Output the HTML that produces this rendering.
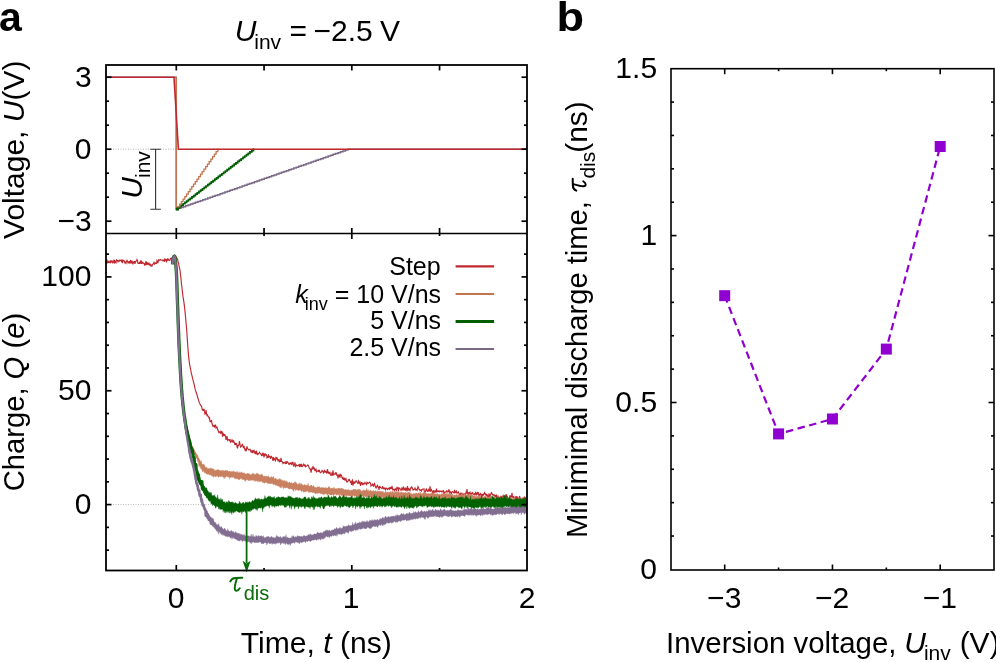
<!DOCTYPE html>
<html><head><meta charset="utf-8"><title>Figure</title>
<style>html,body{margin:0;padding:0;background:#fff;} svg{display:block;}svg{will-change:transform}</style>
</head><body>
<svg width="996" height="662" viewBox="0 0 996 662"><line x1="113" y1="149.20" x2="527.0" y2="149.20" stroke="#b4b4b4" stroke-width="1" stroke-dasharray="1 1.5"/>
<line x1="113" y1="504.60" x2="527.0" y2="504.60" stroke="#b4b4b4" stroke-width="1" stroke-dasharray="1 1.5"/>
<path d="M106,77.20 L176.3,77.20 L176.3,209.20 L177,209.20" fill="none" stroke="#7a6886" stroke-width="1.5"/>
<path d="M177.00,209.20 L178.23,209.20 L178.23,208.34 L180.69,208.34 L180.69,207.49 L183.15,207.49 L183.15,206.63 L185.60,206.63 L185.60,205.77 L188.06,205.77 L188.06,204.91 L190.52,204.91 L190.52,204.06 L192.98,204.06 L192.98,203.20 L195.44,203.20 L195.44,202.34 L197.90,202.34 L197.90,201.49 L200.36,201.49 L200.36,200.63 L202.81,200.63 L202.81,199.77 L205.27,199.77 L205.27,198.91 L207.73,198.91 L207.73,198.06 L210.19,198.06 L210.19,197.20 L212.65,197.20 L212.65,196.34 L215.11,196.34 L215.11,195.49 L217.57,195.49 L217.57,194.63 L220.02,194.63 L220.02,193.77 L222.48,193.77 L222.48,192.91 L224.94,192.91 L224.94,192.06 L227.40,192.06 L227.40,191.20 L229.86,191.20 L229.86,190.34 L232.32,190.34 L232.32,189.49 L234.78,189.49 L234.78,188.63 L237.23,188.63 L237.23,187.77 L239.69,187.77 L239.69,186.91 L242.15,186.91 L242.15,186.06 L244.61,186.06 L244.61,185.20 L247.07,185.20 L247.07,184.34 L249.53,184.34 L249.53,183.49 L251.99,183.49 L251.99,182.63 L254.44,182.63 L254.44,181.77 L256.90,181.77 L256.90,180.91 L259.36,180.91 L259.36,180.06 L261.82,180.06 L261.82,179.20 L264.28,179.20 L264.28,178.34 L266.74,178.34 L266.74,177.49 L269.20,177.49 L269.20,176.63 L271.65,176.63 L271.65,175.77 L274.11,175.77 L274.11,174.91 L276.57,174.91 L276.57,174.06 L279.03,174.06 L279.03,173.20 L281.49,173.20 L281.49,172.34 L283.95,172.34 L283.95,171.49 L286.41,171.49 L286.41,170.63 L288.86,170.63 L288.86,169.77 L291.32,169.77 L291.32,168.91 L293.78,168.91 L293.78,168.06 L296.24,168.06 L296.24,167.20 L298.70,167.20 L298.70,166.34 L301.16,166.34 L301.16,165.49 L303.62,165.49 L303.62,164.63 L306.07,164.63 L306.07,163.77 L308.53,163.77 L308.53,162.91 L310.99,162.91 L310.99,162.06 L313.45,162.06 L313.45,161.20 L315.91,161.20 L315.91,160.34 L318.37,160.34 L318.37,159.49 L320.83,159.49 L320.83,158.63 L323.28,158.63 L323.28,157.77 L325.74,157.77 L325.74,156.91 L328.20,156.91 L328.20,156.06 L330.66,156.06 L330.66,155.20 L333.12,155.20 L333.12,154.34 L335.58,154.34 L335.58,153.49 L338.04,153.49 L338.04,152.63 L340.49,152.63 L340.49,151.77 L342.95,151.77 L342.95,150.91 L345.41,150.91 L345.41,150.06 L347.87,150.06 L347.87,149.20 L349.10,149.20 L527,149.20" fill="none" stroke="#7a6886" stroke-width="1.5"/>
<path d="M177.00,209.20 L177.88,209.20 L177.88,207.84 L179.64,207.84 L179.64,206.47 L181.40,206.47 L181.40,205.11 L183.16,205.11 L183.16,203.75 L184.92,203.75 L184.92,202.38 L186.67,202.38 L186.67,201.02 L188.43,201.02 L188.43,199.65 L190.19,199.65 L190.19,198.29 L191.95,198.29 L191.95,196.93 L193.71,196.93 L193.71,195.56 L195.47,195.56 L195.47,194.20 L197.23,194.20 L197.23,192.84 L198.99,192.84 L198.99,191.47 L200.75,191.47 L200.75,190.11 L202.51,190.11 L202.51,188.75 L204.27,188.75 L204.27,187.38 L206.02,187.38 L206.02,186.02 L207.78,186.02 L207.78,184.65 L209.54,184.65 L209.54,183.29 L211.30,183.29 L211.30,181.93 L213.06,181.93 L213.06,180.56 L214.82,180.56 L214.82,179.20 L216.58,179.20 L216.58,177.84 L218.34,177.84 L218.34,176.47 L220.10,176.47 L220.10,175.11 L221.86,175.11 L221.86,173.75 L223.62,173.75 L223.62,172.38 L225.37,172.38 L225.37,171.02 L227.13,171.02 L227.13,169.65 L228.89,169.65 L228.89,168.29 L230.65,168.29 L230.65,166.93 L232.41,166.93 L232.41,165.56 L234.17,165.56 L234.17,164.20 L235.93,164.20 L235.93,162.84 L237.69,162.84 L237.69,161.47 L239.45,161.47 L239.45,160.11 L241.21,160.11 L241.21,158.75 L242.97,158.75 L242.97,157.38 L244.72,157.38 L244.72,156.02 L246.48,156.02 L246.48,154.65 L248.24,154.65 L248.24,153.29 L250.00,153.29 L250.00,151.93 L251.76,151.93 L251.76,150.56 L253.52,150.56 L253.52,149.20 L254.40,149.20" fill="none" stroke="#005e00" stroke-width="1.7"/>
<path d="M176.3,77.20 L176.3,209.20 L177,209.20" fill="none" stroke="#c27650" stroke-width="1.3"/>
<path d="M177.00,209.20 L177.87,209.20 L177.87,206.70 L179.61,206.70 L179.61,204.20 L181.34,204.20 L181.34,201.70 L183.08,201.70 L183.08,199.20 L184.82,199.20 L184.82,196.70 L186.56,196.70 L186.56,194.20 L188.29,194.20 L188.29,191.70 L190.03,191.70 L190.03,189.20 L191.77,189.20 L191.77,186.70 L193.51,186.70 L193.51,184.20 L195.24,184.20 L195.24,181.70 L196.98,181.70 L196.98,179.20 L198.72,179.20 L198.72,176.70 L200.46,176.70 L200.46,174.20 L202.19,174.20 L202.19,171.70 L203.93,171.70 L203.93,169.20 L205.67,169.20 L205.67,166.70 L207.41,166.70 L207.41,164.20 L209.14,164.20 L209.14,161.70 L210.88,161.70 L210.88,159.20 L212.62,159.20 L212.62,156.70 L214.36,156.70 L214.36,154.20 L216.09,154.20 L216.09,151.70 L217.83,151.70 L217.83,149.20 L218.70,149.20" fill="none" stroke="#c27650" stroke-width="1.3"/>
<path d="M106,77.20 L174,77.20 L178.4,149.20 L527,149.20" fill="none" stroke="#c02830" stroke-width="1.6"/>
<rect x="175.8" y="207.60" width="3" height="3" fill="#005e00"/>
<path d="M155.6,149.20 L155.6,209.20 M150.3,149.20 L160.9,149.20 M150.3,209.20 L160.9,209.20" stroke="#333" stroke-width="1.1" fill="none"/>
<path d="M106.00,263.93 L106.50,261.26 L107.00,260.47 L107.50,262.53 L108.00,261.63 L108.50,262.39 L109.00,261.49 L109.50,262.60 L110.00,262.81 L110.50,260.33 L111.00,262.14 L111.50,261.54 L112.00,260.46 L112.50,263.25 L113.00,262.09 L113.50,262.06 L114.00,259.74 L114.50,263.52 L115.00,260.99 L115.50,261.49 L116.00,262.44 L116.50,259.97 L117.00,260.46 L117.50,260.46 L118.00,261.78 L118.50,260.69 L119.00,260.60 L119.50,261.07 L120.00,259.91 L120.50,260.13 L121.00,260.60 L121.50,262.15 L122.00,259.30 L122.50,263.20 L123.00,260.57 L123.50,260.45 L124.00,260.57 L124.50,261.67 L125.00,262.96 L125.50,261.98 L126.00,263.07 L126.50,261.37 L127.00,260.27 L127.50,261.36 L128.00,262.85 L128.50,261.53 L129.00,263.10 L129.50,261.17 L130.00,263.72 L130.50,259.96 L131.00,261.99 L131.50,263.40 L132.00,260.67 L132.50,262.96 L133.00,264.28 L133.50,261.50 L134.00,262.97 L134.50,261.00 L135.00,263.88 L135.50,261.60 L136.00,261.39 L136.50,260.60 L137.00,259.60 L137.50,260.70 L138.00,263.35 L138.50,263.36 L139.00,263.34 L139.50,262.53 L140.00,263.92 L140.50,262.11 L141.00,260.26 L141.50,263.96 L142.00,262.18 L142.50,263.03 L143.00,262.43 L143.50,263.23 L144.00,263.55 L144.50,264.89 L145.00,263.87 L145.50,265.41 L146.00,261.05 L146.50,263.87 L147.00,263.12 L147.50,264.85 L148.00,263.29 L148.50,264.21 L149.00,263.37 L149.50,264.88 L150.00,264.17 L150.50,264.30 L151.00,266.67 L151.50,265.30 L152.00,265.86 L152.50,264.30 L153.00,263.97 L153.50,263.53 L154.00,262.44 L154.50,264.09 L155.00,263.48 L155.50,262.93 L156.00,263.53 L156.50,263.49 L157.00,260.42 L157.50,261.17 L158.00,263.22 L158.50,259.90 L159.00,259.75 L159.50,260.30 L160.00,259.98 L160.50,259.57 L161.00,259.95 L161.50,260.24 L162.00,260.05 L162.50,260.09 L163.00,260.83 L163.50,260.32 L164.00,259.80 L164.50,261.76 L165.00,259.22 L165.50,259.88 L166.00,259.01 L166.50,262.27 L167.00,259.61 L167.50,259.04 L168.00,260.14 L168.50,259.40 L169.00,260.15 L169.50,260.42 L170.00,260.26 L170.50,258.35 L171.00,258.13 L171.50,258.63 L172.00,258.18 L172.50,260.58 L173.00,259.02 L173.50,255.20 L174.00,258.60 L174.50,255.22 L175.00,257.13 L175.50,258.19 L176.00,256.51 L176.50,257.76 L177.00,258.34 L177.50,258.79 L178.00,261.46 L178.50,263.01 L179.00,265.72 L179.50,268.02 L180.00,270.24 L180.50,274.80 L181.00,278.62 L181.50,284.22 L182.00,288.27 L182.50,292.59 L183.00,296.68 L183.50,299.70 L184.00,302.82 L184.50,306.67 L185.00,311.34 L185.50,316.58 L186.00,322.05 L186.50,328.01 L187.00,334.30 L187.50,342.24 L188.00,348.75 L188.50,355.40 L189.00,359.82 L189.50,363.49 L190.00,366.30 L190.50,369.16 L191.00,371.26 L191.50,374.07 L192.00,375.54 L192.50,378.19 L193.00,380.11 L193.50,381.79 L194.00,383.74 L194.50,385.97 L195.00,388.42 L195.50,390.40 L196.00,391.70 L196.50,393.22 L197.00,394.70 L197.50,397.11 L198.00,398.30 L198.50,400.20 L199.00,401.79 L199.50,402.98 L200.00,403.88 L200.50,405.25 L201.00,405.76 L201.50,405.96 L202.00,408.47 L202.50,410.61 L203.00,408.85 L203.50,410.89 L204.00,408.78 L204.50,411.77 L205.00,414.23 L205.50,413.82 L206.00,410.10 L206.50,413.60 L207.00,415.42 L207.50,415.00 L208.00,416.31 L208.50,416.59 L209.00,417.92 L209.50,417.66 L210.00,421.65 L210.50,421.69 L211.00,421.54 L211.50,419.97 L212.00,423.51 L212.50,424.94 L213.00,426.30 L213.50,426.00 L214.00,425.54 L214.50,426.98 L215.00,426.52 L215.50,424.67 L216.00,428.00 L216.50,427.66 L217.00,426.64 L217.50,429.41 L218.00,429.91 L218.50,431.83 L219.00,432.71 L219.50,431.95 L220.00,431.97 L220.50,433.02 L221.00,431.53 L221.50,432.53 L222.00,431.20 L222.50,436.59 L223.00,433.55 L223.50,434.31 L224.00,436.05 L224.50,434.53 L225.00,434.83 L225.50,436.53 L226.00,439.98 L226.50,437.87 L227.00,436.19 L227.50,440.17 L228.00,439.43 L228.50,439.89 L229.00,439.87 L229.50,441.09 L230.00,439.19 L230.50,442.20 L231.00,442.08 L231.50,441.17 L232.00,439.41 L232.50,441.36 L233.00,442.58 L233.50,440.28 L234.00,442.04 L234.50,442.81 L235.00,445.04 L235.50,442.91 L236.00,444.73 L236.50,443.07 L237.00,446.52 L237.50,448.47 L238.00,445.04 L238.50,446.09 L239.00,443.95 L239.50,441.13 L240.00,444.25 L240.50,447.07 L241.00,446.49 L241.50,446.08 L242.00,444.57 L242.50,444.36 L243.00,446.66 L243.50,447.38 L244.00,445.85 L244.50,448.34 L245.00,449.97 L245.50,449.27 L246.00,451.44 L246.50,449.09 L247.00,446.46 L247.50,448.01 L248.00,448.98 L248.50,449.87 L249.00,449.78 L249.50,449.42 L250.00,449.19 L250.50,450.53 L251.00,451.79 L251.50,452.14 L252.00,450.11 L252.50,453.10 L253.00,451.93 L253.50,450.40 L254.00,450.25 L254.50,453.38 L255.00,451.28 L255.50,454.08 L256.00,451.64 L256.50,451.30 L257.00,454.63 L257.50,452.88 L258.00,454.36 L258.50,453.43 L259.00,453.17 L259.50,452.38 L260.00,453.10 L260.50,453.70 L261.00,454.34 L261.50,455.58 L262.00,455.49 L262.50,453.75 L263.00,454.87 L263.50,454.02 L264.00,457.33 L264.50,454.34 L265.00,455.12 L265.50,454.18 L266.00,455.00 L266.50,454.87 L267.00,457.66 L267.50,456.81 L268.00,457.77 L268.50,454.26 L269.00,456.96 L269.50,456.51 L270.00,456.42 L270.50,458.75 L271.00,456.88 L271.50,456.47 L272.00,457.78 L272.50,458.28 L273.00,460.99 L273.50,457.07 L274.00,459.48 L274.50,458.92 L275.00,459.86 L275.50,460.65 L276.00,457.64 L276.50,458.46 L277.00,457.35 L277.50,459.53 L278.00,460.79 L278.50,459.67 L279.00,459.52 L279.50,461.57 L280.00,460.79 L280.50,461.84 L281.00,457.81 L281.50,461.24 L282.00,461.93 L282.50,461.92 L283.00,463.36 L283.50,462.59 L284.00,462.99 L284.50,462.60 L285.00,462.15 L285.50,463.99 L286.00,461.58 L286.50,463.89 L287.00,461.16 L287.50,462.11 L288.00,462.59 L288.50,462.98 L289.00,464.97 L289.50,463.51 L290.00,463.84 L290.50,462.94 L291.00,463.05 L291.50,464.24 L292.00,462.99 L292.50,464.26 L293.00,461.89 L293.50,466.35 L294.00,465.49 L294.50,464.51 L295.00,462.34 L295.50,466.47 L296.00,465.87 L296.50,465.00 L297.00,465.77 L297.50,465.65 L298.00,465.32 L298.50,465.42 L299.00,464.74 L299.50,467.01 L300.00,463.97 L300.50,466.05 L301.00,466.24 L301.50,463.80 L302.00,467.04 L302.50,466.16 L303.00,465.67 L303.50,464.24 L304.00,464.91 L304.50,465.69 L305.00,464.85 L305.50,466.65 L306.00,466.14 L306.50,466.21 L307.00,465.85 L307.50,465.11 L308.00,465.03 L308.50,466.02 L309.00,467.10 L309.50,468.72 L310.00,469.22 L310.50,469.16 L311.00,472.57 L311.50,470.16 L312.00,467.59 L312.50,469.31 L313.00,465.99 L313.50,469.36 L314.00,467.39 L314.50,468.96 L315.00,471.15 L315.50,469.23 L316.00,469.04 L316.50,471.92 L317.00,471.41 L317.50,471.01 L318.00,471.21 L318.50,469.83 L319.00,471.43 L319.50,470.62 L320.00,472.00 L320.50,472.68 L321.00,472.37 L321.50,471.84 L322.00,470.46 L322.50,471.07 L323.00,471.66 L323.50,472.69 L324.00,471.34 L324.50,470.58 L325.00,472.24 L325.50,471.90 L326.00,470.79 L326.50,472.83 L327.00,472.40 L327.50,469.13 L328.00,473.56 L328.50,471.59 L329.00,473.99 L329.50,472.49 L330.00,472.32 L330.50,474.99 L331.00,475.34 L331.50,475.10 L332.00,472.33 L332.50,475.78 L333.00,470.38 L333.50,475.30 L334.00,473.97 L334.50,474.18 L335.00,473.99 L335.50,472.40 L336.00,473.89 L336.50,473.30 L337.00,475.97 L337.50,474.64 L338.00,478.52 L338.50,475.48 L339.00,474.87 L339.50,476.86 L340.00,477.07 L340.50,473.80 L341.00,476.11 L341.50,474.82 L342.00,477.74 L342.50,478.47 L343.00,477.83 L343.50,479.73 L344.00,477.85 L344.50,480.36 L345.00,478.75 L345.50,479.80 L346.00,478.88 L346.50,481.38 L347.00,482.17 L347.50,481.49 L348.00,481.20 L348.50,479.81 L349.00,480.28 L349.50,479.69 L350.00,480.92 L350.50,482.15 L351.00,481.85 L351.50,484.90 L352.00,480.76 L352.50,480.03 L353.00,485.66 L353.50,481.48 L354.00,483.93 L354.50,481.61 L355.00,482.78 L355.50,482.27 L356.00,480.86 L356.50,480.92 L357.00,482.09 L357.50,482.66 L358.00,483.99 L358.50,480.89 L359.00,481.75 L359.50,483.04 L360.00,482.31 L360.50,485.84 L361.00,484.59 L361.50,482.53 L362.00,482.55 L362.50,484.55 L363.00,484.71 L363.50,483.70 L364.00,483.31 L364.50,483.74 L365.00,482.44 L365.50,483.22 L366.00,483.68 L366.50,484.48 L367.00,482.33 L367.50,482.82 L368.00,483.44 L368.50,483.16 L369.00,482.73 L369.50,482.15 L370.00,482.35 L370.50,483.49 L371.00,485.99 L371.50,485.17 L372.00,485.22 L372.50,483.67 L373.00,485.22 L373.50,486.60 L374.00,484.14 L374.50,483.51 L375.00,485.20 L375.50,487.29 L376.00,487.95 L376.50,486.89 L377.00,485.80 L377.50,485.30 L378.00,487.69 L378.50,486.68 L379.00,489.80 L379.50,486.06 L380.00,487.37 L380.50,487.22 L381.00,487.79 L381.50,487.91 L382.00,488.97 L382.50,486.82 L383.00,487.01 L383.50,488.34 L384.00,488.94 L384.50,487.88 L385.00,488.10 L385.50,489.49 L386.00,488.15 L386.50,488.05 L387.00,489.03 L387.50,489.54 L388.00,488.62 L388.50,488.79 L389.00,488.12 L389.50,489.16 L390.00,487.90 L390.50,489.14 L391.00,487.07 L391.50,488.85 L392.00,485.84 L392.50,489.10 L393.00,489.98 L393.50,489.25 L394.00,489.14 L394.50,490.56 L395.00,489.33 L395.50,488.83 L396.00,489.55 L396.50,490.34 L397.00,486.88 L397.50,488.80 L398.00,487.38 L398.50,490.86 L399.00,487.56 L399.50,488.73 L400.00,488.79 L400.50,489.10 L401.00,490.30 L401.50,489.30 L402.00,487.82 L402.50,488.75 L403.00,490.60 L403.50,486.59 L404.00,488.31 L404.50,489.72 L405.00,489.17 L405.50,490.58 L406.00,488.11 L406.50,488.53 L407.00,491.48 L407.50,486.08 L408.00,490.05 L408.50,488.08 L409.00,490.06 L409.50,489.70 L410.00,490.50 L410.50,488.26 L411.00,488.08 L411.50,486.48 L412.00,487.82 L412.50,488.20 L413.00,490.47 L413.50,489.44 L414.00,489.46 L414.50,489.14 L415.00,488.19 L415.50,490.29 L416.00,489.23 L416.50,489.84 L417.00,490.34 L417.50,488.45 L418.00,486.63 L418.50,487.63 L419.00,489.21 L419.50,489.36 L420.00,490.47 L420.50,490.00 L421.00,489.72 L421.50,491.00 L422.00,489.76 L422.50,489.10 L423.00,489.16 L423.50,489.21 L424.00,488.92 L424.50,492.74 L425.00,491.71 L425.50,491.83 L426.00,489.27 L426.50,488.96 L427.00,490.65 L427.50,491.30 L428.00,491.29 L428.50,489.64 L429.00,490.85 L429.50,491.03 L430.00,486.38 L430.50,491.12 L431.00,490.64 L431.50,489.68 L432.00,491.04 L432.50,492.19 L433.00,493.86 L433.50,490.26 L434.00,491.37 L434.50,492.62 L435.00,490.55 L435.50,491.74 L436.00,491.98 L436.50,488.70 L437.00,491.48 L437.50,491.61 L438.00,491.04 L438.50,491.53 L439.00,490.97 L439.50,491.73 L440.00,491.14 L440.50,491.35 L441.00,491.09 L441.50,491.68 L442.00,492.13 L442.50,491.03 L443.00,491.01 L443.50,490.73 L444.00,494.16 L444.50,492.03 L445.00,491.99 L445.50,492.13 L446.00,492.17 L446.50,490.79 L447.00,490.88 L447.50,491.98 L448.00,491.98 L448.50,491.29 L449.00,489.26 L449.50,492.32 L450.00,491.59 L450.50,491.91 L451.00,493.48 L451.50,493.49 L452.00,491.71 L452.50,491.70 L453.00,491.90 L453.50,492.32 L454.00,493.35 L454.50,489.95 L455.00,492.55 L455.50,492.65 L456.00,491.94 L456.50,490.51 L457.00,493.58 L457.50,492.53 L458.00,492.52 L458.50,492.04 L459.00,493.65 L459.50,494.66 L460.00,494.06 L460.50,494.76 L461.00,492.61 L461.50,493.73 L462.00,496.35 L462.50,495.36 L463.00,493.74 L463.50,494.88 L464.00,495.07 L464.50,493.96 L465.00,494.06 L465.50,494.34 L466.00,492.52 L466.50,493.62 L467.00,489.05 L467.50,493.54 L468.00,494.33 L468.50,492.43 L469.00,493.97 L469.50,493.06 L470.00,492.16 L470.50,493.87 L471.00,494.74 L471.50,493.09 L472.00,493.23 L472.50,492.58 L473.00,493.62 L473.50,494.35 L474.00,494.42 L474.50,493.83 L475.00,494.38 L475.50,492.57 L476.00,493.30 L476.50,495.24 L477.00,493.23 L477.50,491.99 L478.00,493.88 L478.50,493.21 L479.00,495.93 L479.50,495.55 L480.00,494.09 L480.50,493.51 L481.00,494.96 L481.50,493.68 L482.00,499.19 L482.50,493.94 L483.00,495.69 L483.50,494.22 L484.00,494.38 L484.50,492.58 L485.00,493.35 L485.50,494.60 L486.00,494.31 L486.50,496.05 L487.00,494.02 L487.50,496.82 L488.00,495.48 L488.50,498.05 L489.00,493.96 L489.50,494.31 L490.00,497.32 L490.50,495.93 L491.00,493.16 L491.50,492.56 L492.00,493.67 L492.50,494.48 L493.00,494.93 L493.50,495.41 L494.00,494.81 L494.50,494.84 L495.00,496.70 L495.50,495.84 L496.00,496.69 L496.50,494.64 L497.00,499.10 L497.50,497.31 L498.00,495.58 L498.50,498.68 L499.00,500.49 L499.50,496.83 L500.00,499.23 L500.50,498.46 L501.00,495.81 L501.50,497.44 L502.00,497.38 L502.50,496.79 L503.00,495.80 L503.50,498.07 L504.00,495.65 L504.50,497.79 L505.00,496.59 L505.50,494.70 L506.00,497.70 L506.50,494.28 L507.00,497.59 L507.50,496.97 L508.00,498.67 L508.50,499.67 L509.00,499.36 L509.50,497.49 L510.00,495.30 L510.50,496.90 L511.00,496.12 L511.50,496.70 L512.00,492.70 L512.50,497.44 L513.00,496.14 L513.50,498.14 L514.00,497.05 L514.50,498.59 L515.00,499.51 L515.50,497.94 L516.00,496.02 L516.50,499.14 L517.00,496.43 L517.50,497.50 L518.00,498.38 L518.50,498.63 L519.00,498.96 L519.50,496.00 L520.00,497.40 L520.50,499.38 L521.00,501.13 L521.50,499.60 L522.00,498.69 L522.50,499.63 L523.00,498.47 L523.50,499.93 L524.00,498.68 L524.50,496.57 L525.00,500.09 L525.50,501.05 L526.00,499.53 L526.50,499.49 L527.00,499.39" fill="none" stroke="#c02830" stroke-width="1.15" stroke-linejoin="miter" stroke-miterlimit="3"/>
<path d="M172.50,264.05 L172.80,261.26 L173.10,259.41 L173.40,258.37 L173.70,256.86 L174.00,256.49 L174.30,256.53 L174.60,256.67 L174.90,257.13 L175.20,258.93 L175.50,261.47 L175.80,264.05 L176.10,267.16 L176.40,270.79 L176.70,275.97 L177.00,284.47 L177.30,294.18 L177.60,302.63 L177.90,310.77 L178.20,319.19 L178.50,326.83 L178.80,334.12 L179.10,341.39 L179.40,347.43 L179.70,353.96 L180.00,360.03 L180.30,365.29 L180.60,371.13 L180.90,376.42 L181.20,380.93 L181.50,385.80 L181.80,390.07 L182.10,394.02 L182.40,397.52 L182.70,400.79 L183.00,404.10 L183.30,406.88 L183.60,409.91 L183.90,412.38 L184.20,414.88 L184.50,416.99 L184.80,418.91 L185.10,420.93 L185.40,422.12 L185.70,422.91 L186.00,424.57 L186.30,425.50 L186.60,426.75 L186.90,427.81 L187.20,428.67 L187.50,429.77 L187.80,431.16 L188.10,431.75 L188.40,433.48 L188.70,434.58 L189.00,436.36 L189.30,437.15 L189.60,438.95 L189.90,440.34 L190.20,441.03 L190.50,441.89 L190.80,443.81 L191.10,443.46 L191.40,446.09 L191.70,446.20 L192.00,447.42 L192.30,447.18 L192.60,447.45 L192.90,448.24 L193.20,448.85 L193.50,449.42 L193.80,451.31 L194.10,450.73 L194.40,452.27 L194.70,452.21 L195.00,452.67 L195.30,453.87 L195.60,454.91 L195.90,455.75 L196.20,455.57 L196.50,456.32 L196.80,457.64" fill="none" stroke="#c98060" stroke-width="1.6" stroke-linejoin="round"/>
<path d="M193.00,448.60 L193.60,449.64 L194.20,450.59 L194.80,451.53 L195.40,452.46 L196.00,452.66 L196.60,454.11 L197.20,454.80 L197.80,455.14 L198.40,457.42 L199.00,458.20 L199.60,459.69 L200.20,460.31 L200.80,462.08 L201.40,460.75 L202.00,463.90 L202.60,464.41 L203.20,463.71 L203.80,464.56 L204.40,464.73 L205.00,466.13 L205.60,467.60 L206.20,467.79 L206.80,466.94 L207.40,468.52 L208.00,468.41 L208.60,468.44 L209.20,468.16 L209.80,468.80 L210.40,468.86 L211.00,467.53 L211.60,469.36 L212.20,468.02 L212.80,469.31 L213.40,469.11 L214.00,469.08 L214.60,470.72 L215.20,470.17 L215.80,470.61 L216.40,469.96 L217.00,469.66 L217.60,469.84 L218.20,469.36 L218.80,469.91 L219.40,470.78 L220.00,470.01 L220.60,470.66 L221.20,470.49 L221.80,471.04 L222.40,469.94 L223.00,471.05 L223.60,470.22 L224.20,470.91 L224.80,470.88 L225.40,469.78 L226.00,470.86 L226.60,470.46 L227.20,470.75 L227.80,470.53 L228.40,471.33 L229.00,471.20 L229.60,471.12 L230.20,471.53 L230.80,471.71 L231.40,471.27 L232.00,471.66 L232.60,471.43 L233.20,470.75 L233.80,471.83 L234.40,471.32 L235.00,472.21 L235.60,472.08 L236.20,472.18 L236.80,471.30 L237.40,471.62 L238.00,472.90 L238.60,472.63 L239.20,471.52 L239.80,472.92 L240.40,472.77 L241.00,472.09 L241.60,471.83 L242.20,472.81 L242.80,473.10 L243.40,473.27 L244.00,472.39 L244.60,473.29 L245.20,473.57 L245.80,474.14 L246.40,473.83 L247.00,473.53 L247.60,473.03 L248.20,473.63 L248.80,473.49 L249.40,473.82 L250.00,474.30 L250.60,474.90 L251.20,474.77 L251.80,473.69 L252.40,474.10 L253.00,472.85 L253.60,474.20 L254.20,473.72 L254.80,474.81 L255.40,474.16 L256.00,474.03 L256.60,473.22 L257.20,472.80 L257.80,473.98 L258.40,473.85 L259.00,474.86 L259.60,474.86 L260.20,474.76 L260.80,474.98 L261.40,473.74 L262.00,474.47 L262.60,474.96 L263.20,476.12 L263.80,476.61 L264.40,476.08 L265.00,476.00 L265.60,476.53 L266.20,476.26 L266.80,475.97 L267.40,477.30 L268.00,475.67 L268.60,476.25 L269.20,477.40 L269.80,477.16 L270.40,477.27 L271.00,477.65 L271.60,476.15 L272.20,476.93 L272.80,477.81 L273.40,476.11 L274.00,478.20 L274.60,478.63 L275.20,478.37 L275.80,478.15 L276.40,478.92 L277.00,479.50 L277.60,479.58 L278.20,479.67 L278.80,478.80 L279.40,478.59 L280.00,479.53 L280.60,478.94 L281.20,480.51 L281.80,479.39 L282.40,480.36 L283.00,480.95 L283.60,480.44 L284.20,481.46 L284.80,480.09 L285.40,480.97 L286.00,481.65 L286.60,480.85 L287.20,482.08 L287.80,482.13 L288.40,482.92 L289.00,482.27 L289.60,481.84 L290.20,483.01 L290.80,483.11 L291.40,482.79 L292.00,482.65 L292.60,483.67 L293.20,483.04 L293.80,483.00 L294.40,481.88 L295.00,483.50 L295.60,481.39 L296.20,482.60 L296.80,483.38 L297.40,484.16 L298.00,484.24 L298.60,484.21 L299.20,482.64 L299.80,483.67 L300.40,484.55 L301.00,482.99 L301.60,484.23 L302.20,484.40 L302.80,484.92 L303.40,485.41 L304.00,484.49 L304.60,484.72 L305.20,484.47 L305.80,485.45 L306.40,485.16 L307.00,484.94 L307.60,485.15 L308.20,483.20 L308.80,486.00 L309.40,486.47 L310.00,485.59 L310.60,485.58 L311.20,485.03 L311.80,485.19 L312.40,486.79 L313.00,485.97 L313.60,485.20 L314.20,487.08 L314.80,487.33 L315.40,487.00 L316.00,487.63 L316.60,487.38 L317.20,487.14 L317.80,486.62 L318.40,487.26 L319.00,486.41 L319.60,486.95 L320.20,487.68 L320.80,487.64 L321.40,487.61 L322.00,487.78 L322.60,487.16 L323.20,487.83 L323.80,487.50 L324.40,488.04 L325.00,487.65 L325.60,487.33 L326.20,488.24 L326.80,487.65 L327.40,488.24 L328.00,487.71 L328.60,486.51 L329.20,486.56 L329.80,487.42 L330.40,488.47 L331.00,488.21 L331.60,488.13 L332.20,488.29 L332.80,488.03 L333.40,488.38 L334.00,487.04 L334.60,488.81 L335.20,488.56 L335.80,488.85 L336.40,488.38 L337.00,488.72 L337.60,488.48 L338.20,488.61 L338.80,487.75 L339.40,488.30 L340.00,488.63 L340.60,488.53 L341.20,487.93 L341.80,488.32 L342.40,488.51 L343.00,489.11 L343.60,488.80 L344.20,489.95 L344.80,489.74 L345.40,489.46 L346.00,489.73 L346.60,489.69 L347.20,489.62 L347.80,489.88 L348.40,489.49 L349.00,490.07 L349.60,490.22 L350.20,490.39 L350.80,490.23 L351.40,490.13 L352.00,489.74 L352.60,490.14 L353.20,489.33 L353.80,489.21 L354.40,489.37 L355.00,489.62 L355.60,489.02 L356.20,490.11 L356.80,489.90 L357.40,489.10 L358.00,490.57 L358.60,488.94 L359.20,489.44 L359.80,489.35 L360.40,489.78 L361.00,490.68 L361.60,491.23 L362.20,490.96 L362.80,490.45 L363.40,490.08 L364.00,490.14 L364.60,489.90 L365.20,490.74 L365.80,490.07 L366.40,488.25 L367.00,490.41 L367.60,490.15 L368.20,489.40 L368.80,491.14 L369.40,491.25 L370.00,490.14 L370.60,489.91 L371.20,490.90 L371.80,491.37 L372.40,490.79 L373.00,491.62 L373.60,489.97 L374.20,491.22 L374.80,491.71 L375.40,490.30 L376.00,491.21 L376.60,491.82 L377.20,491.54 L377.80,490.36 L378.40,491.47 L379.00,491.23 L379.60,491.30 L380.20,491.72 L380.80,490.70 L381.40,491.05 L382.00,492.30 L382.60,491.66 L383.20,491.09 L383.80,492.71 L384.40,492.45 L385.00,492.80 L385.60,490.20 L386.20,492.47 L386.80,492.23 L387.40,491.90 L388.00,492.45 L388.60,491.88 L389.20,491.93 L389.80,492.23 L390.40,491.77 L391.00,491.22 L391.60,492.50 L392.20,492.09 L392.80,490.63 L393.40,492.31 L394.00,492.42 L394.60,492.83 L395.20,491.61 L395.80,491.60 L396.40,491.99 L397.00,492.46 L397.60,492.05 L398.20,491.25 L398.80,491.04 L399.40,492.77 L400.00,492.68 L400.60,492.44 L401.20,491.74 L401.80,492.27 L402.40,492.61 L403.00,492.79 L403.60,492.49 L404.20,492.54 L404.80,493.06 L405.40,492.12 L406.00,492.52 L406.60,493.30 L407.20,492.50 L407.80,493.10 L408.40,492.12 L409.00,492.35 L409.60,492.07 L410.20,493.13 L410.80,493.26 L411.40,493.82 L412.00,493.62 L412.60,494.13 L413.20,493.73 L413.80,493.34 L414.40,493.89 L415.00,493.46 L415.60,493.21 L416.20,493.09 L416.80,493.02 L417.40,493.79 L418.00,493.32 L418.60,492.86 L419.20,493.54 L419.80,492.54 L420.40,491.96 L421.00,493.65 L421.60,493.63 L422.20,493.51 L422.80,493.58 L423.40,492.65 L424.00,491.92 L424.60,491.64 L425.20,493.17 L425.80,492.96 L426.40,493.13 L427.00,493.78 L427.60,493.53 L428.20,493.76 L428.80,493.26 L429.40,494.16 L430.00,493.23 L430.60,493.67 L431.20,493.18 L431.80,492.75 L432.40,492.74 L433.00,494.29 L433.60,493.10 L434.20,493.38 L434.80,493.37 L435.40,494.32 L436.00,493.62 L436.60,494.43 L437.20,493.27 L437.80,493.91 L438.40,494.19 L439.00,494.35 L439.60,494.25 L440.20,494.45 L440.80,494.38 L441.40,494.07 L442.00,493.35 L442.60,493.90 L443.20,494.15 L443.80,493.64 L444.40,494.24 L445.00,494.11 L445.60,493.92 L446.20,491.98 L446.80,494.38 L447.40,494.15 L448.00,493.00 L448.60,494.56 L449.20,493.17 L449.80,493.25 L450.40,493.91 L451.00,494.35 L451.60,494.43 L452.20,494.24 L452.80,494.26 L453.40,495.40 L454.00,494.92 L454.60,494.92 L455.20,495.29 L455.80,495.00 L456.40,494.06 L457.00,494.97 L457.60,495.20 L458.20,494.18 L458.80,495.09 L459.40,494.54 L460.00,495.24 L460.60,495.42 L461.20,493.74 L461.80,494.01 L462.40,494.86 L463.00,494.73 L463.60,494.72 L464.20,494.02 L464.80,494.52 L465.40,494.29 L466.00,494.41 L466.60,494.89 L467.20,494.37 L467.80,494.01 L468.40,494.94 L469.00,493.71 L469.60,494.50 L470.20,495.15 L470.80,493.86 L471.40,494.58 L472.00,495.00 L472.60,494.64 L473.20,496.15 L473.80,495.44 L474.40,495.59 L475.00,494.92 L475.60,496.57 L476.20,496.16 L476.80,496.66 L477.40,496.01 L478.00,496.29 L478.60,496.31 L479.20,495.52 L479.80,496.19 L480.40,495.64 L481.00,496.18 L481.60,496.23 L482.20,496.69 L482.80,496.37 L483.40,496.63 L484.00,497.12 L484.60,496.11 L485.20,495.72 L485.80,496.23 L486.40,497.47 L487.00,496.55 L487.60,496.96 L488.20,496.80 L488.80,497.26 L489.40,497.00 L490.00,496.53 L490.60,495.32 L491.20,496.19 L491.80,496.10 L492.40,497.20 L493.00,497.25 L493.60,497.12 L494.20,497.59 L494.80,497.49 L495.40,497.59 L496.00,498.20 L496.60,497.69 L497.20,497.23 L497.80,495.88 L498.40,496.61 L499.00,497.64 L499.60,497.74 L500.20,497.54 L500.80,497.13 L501.40,498.18 L502.00,498.23 L502.60,498.58 L503.20,498.65 L503.80,497.35 L504.40,498.17 L505.00,496.73 L505.60,498.05 L506.20,497.86 L506.80,498.19 L507.40,497.96 L508.00,498.28 L508.60,498.64 L509.20,498.05 L509.80,498.19 L510.40,498.53 L511.00,498.63 L511.60,498.65 L512.20,497.48 L512.80,499.20 L513.40,498.57 L514.00,498.72 L514.60,496.89 L515.20,499.40 L515.80,499.39 L516.40,498.62 L517.00,498.96 L517.60,498.26 L518.20,498.74 L518.80,498.52 L519.40,499.33 L520.00,498.51 L520.60,498.81 L521.20,499.16 L521.80,497.81 L522.40,497.65 L523.00,498.59 L523.60,498.35 L524.20,497.85 L524.80,498.12 L525.40,497.16 L526.00,499.35 L526.60,499.00 L526.60,505.37 L526.00,504.54 L525.40,506.36 L524.80,504.47 L524.20,504.23 L523.60,505.67 L523.00,505.86 L522.40,506.24 L521.80,504.83 L521.20,504.49 L520.60,505.37 L520.00,504.42 L519.40,505.42 L518.80,504.73 L518.20,505.66 L517.60,504.84 L517.00,504.90 L516.40,505.93 L515.80,505.76 L515.20,505.16 L514.60,505.30 L514.00,504.28 L513.40,505.48 L512.80,505.03 L512.20,505.27 L511.60,504.45 L511.00,504.34 L510.40,505.79 L509.80,504.57 L509.20,504.52 L508.60,504.87 L508.00,506.55 L507.40,504.21 L506.80,503.48 L506.20,504.28 L505.60,505.36 L505.00,503.94 L504.40,504.30 L503.80,504.12 L503.20,504.82 L502.60,505.32 L502.00,504.29 L501.40,503.68 L500.80,503.80 L500.20,504.63 L499.60,503.83 L499.00,503.95 L498.40,504.00 L497.80,503.32 L497.20,503.54 L496.60,504.26 L496.00,504.08 L495.40,504.54 L494.80,505.47 L494.20,504.18 L493.60,503.43 L493.00,503.22 L492.40,502.86 L491.80,503.49 L491.20,504.05 L490.60,503.45 L490.00,503.85 L489.40,502.42 L488.80,504.01 L488.20,502.92 L487.60,503.61 L487.00,503.37 L486.40,503.78 L485.80,502.67 L485.20,503.04 L484.60,503.94 L484.00,502.65 L483.40,503.69 L482.80,503.30 L482.20,503.03 L481.60,502.99 L481.00,502.35 L480.40,502.19 L479.80,503.27 L479.20,501.76 L478.60,503.85 L478.00,502.66 L477.40,502.78 L476.80,501.77 L476.20,501.95 L475.60,502.15 L475.00,502.11 L474.40,503.56 L473.80,502.15 L473.20,502.82 L472.60,501.99 L472.00,502.36 L471.40,501.64 L470.80,500.67 L470.20,500.71 L469.60,500.67 L469.00,501.66 L468.40,501.26 L467.80,500.99 L467.20,500.67 L466.60,500.79 L466.00,500.93 L465.40,500.60 L464.80,501.10 L464.20,501.81 L463.60,500.61 L463.00,500.34 L462.40,500.39 L461.80,501.81 L461.20,500.44 L460.60,502.09 L460.00,500.57 L459.40,500.42 L458.80,502.14 L458.20,501.13 L457.60,500.76 L457.00,502.49 L456.40,501.18 L455.80,501.99 L455.20,500.87 L454.60,501.10 L454.00,502.10 L453.40,500.90 L452.80,500.29 L452.20,500.84 L451.60,500.31 L451.00,500.91 L450.40,500.51 L449.80,500.40 L449.20,499.90 L448.60,499.86 L448.00,499.68 L447.40,500.11 L446.80,499.94 L446.20,499.79 L445.60,500.07 L445.00,500.06 L444.40,500.15 L443.80,500.29 L443.20,499.81 L442.60,500.28 L442.00,499.99 L441.40,499.66 L440.80,501.15 L440.20,499.66 L439.60,500.73 L439.00,501.37 L438.40,501.18 L437.80,500.98 L437.20,499.74 L436.60,500.35 L436.00,501.00 L435.40,499.84 L434.80,500.25 L434.20,501.54 L433.60,499.76 L433.00,500.50 L432.40,500.31 L431.80,499.97 L431.20,500.35 L430.60,500.14 L430.00,499.33 L429.40,500.26 L428.80,499.46 L428.20,499.77 L427.60,499.65 L427.00,499.09 L426.40,499.56 L425.80,498.79 L425.20,499.75 L424.60,499.90 L424.00,498.56 L423.40,499.27 L422.80,498.94 L422.20,498.97 L421.60,499.36 L421.00,498.95 L420.40,499.40 L419.80,500.10 L419.20,499.52 L418.60,500.27 L418.00,498.85 L417.40,500.72 L416.80,499.21 L416.20,499.96 L415.60,498.88 L415.00,499.97 L414.40,500.02 L413.80,499.24 L413.20,499.83 L412.60,499.79 L412.00,499.51 L411.40,500.23 L410.80,499.45 L410.20,499.18 L409.60,500.64 L409.00,499.00 L408.40,499.29 L407.80,499.11 L407.20,498.76 L406.60,499.23 L406.00,499.74 L405.40,499.15 L404.80,498.65 L404.20,498.39 L403.60,498.97 L403.00,499.65 L402.40,498.50 L401.80,499.35 L401.20,498.75 L400.60,498.23 L400.00,498.52 L399.40,499.04 L398.80,498.75 L398.20,498.27 L397.60,499.90 L397.00,498.48 L396.40,497.92 L395.80,499.34 L395.20,498.96 L394.60,498.88 L394.00,499.03 L393.40,499.49 L392.80,498.45 L392.20,500.39 L391.60,498.09 L391.00,499.02 L390.40,499.32 L389.80,497.99 L389.20,498.03 L388.60,498.47 L388.00,498.72 L387.40,499.76 L386.80,498.81 L386.20,498.08 L385.60,498.36 L385.00,498.66 L384.40,498.04 L383.80,498.29 L383.20,498.76 L382.60,497.74 L382.00,497.37 L381.40,497.68 L380.80,498.29 L380.20,497.69 L379.60,497.87 L379.00,497.83 L378.40,497.48 L377.80,497.31 L377.20,497.24 L376.60,496.95 L376.00,497.18 L375.40,498.55 L374.80,497.56 L374.20,497.86 L373.60,498.69 L373.00,497.49 L372.40,497.15 L371.80,497.06 L371.20,497.32 L370.60,496.81 L370.00,497.42 L369.40,497.28 L368.80,496.54 L368.20,497.20 L367.60,497.16 L367.00,497.47 L366.40,496.24 L365.80,496.86 L365.20,496.90 L364.60,496.35 L364.00,496.32 L363.40,498.36 L362.80,496.06 L362.20,496.06 L361.60,497.31 L361.00,498.50 L360.40,496.56 L359.80,497.21 L359.20,496.46 L358.60,497.00 L358.00,495.91 L357.40,497.51 L356.80,495.97 L356.20,496.48 L355.60,495.63 L355.00,496.83 L354.40,496.22 L353.80,495.59 L353.20,495.51 L352.60,496.66 L352.00,496.23 L351.40,497.09 L350.80,495.69 L350.20,496.24 L349.60,495.93 L349.00,495.64 L348.40,495.92 L347.80,495.08 L347.20,495.74 L346.60,496.90 L346.00,495.45 L345.40,495.76 L344.80,495.30 L344.20,496.61 L343.60,496.43 L343.00,495.06 L342.40,496.06 L341.80,495.99 L341.20,494.78 L340.60,494.49 L340.00,495.54 L339.40,494.58 L338.80,494.54 L338.20,495.38 L337.60,494.72 L337.00,494.46 L336.40,495.40 L335.80,494.19 L335.20,494.06 L334.60,494.37 L334.00,495.37 L333.40,495.88 L332.80,494.15 L332.20,494.94 L331.60,495.10 L331.00,495.27 L330.40,494.99 L329.80,494.85 L329.20,494.29 L328.60,494.11 L328.00,494.35 L327.40,495.39 L326.80,494.56 L326.20,493.87 L325.60,493.68 L325.00,493.50 L324.40,494.14 L323.80,495.24 L323.20,493.71 L322.60,494.27 L322.00,493.78 L321.40,493.65 L320.80,494.09 L320.20,493.22 L319.60,493.10 L319.00,493.18 L318.40,493.17 L317.80,493.65 L317.20,493.10 L316.60,493.04 L316.00,493.92 L315.40,493.63 L314.80,493.34 L314.20,492.74 L313.60,492.62 L313.00,492.89 L312.40,492.40 L311.80,492.12 L311.20,492.18 L310.60,492.08 L310.00,492.54 L309.40,491.90 L308.80,492.85 L308.20,491.33 L307.60,491.10 L307.00,491.49 L306.40,491.56 L305.80,491.55 L305.20,492.06 L304.60,491.41 L304.00,492.54 L303.40,491.65 L302.80,490.89 L302.20,490.64 L301.60,491.93 L301.00,490.65 L300.40,489.91 L299.80,490.32 L299.20,490.34 L298.60,491.02 L298.00,490.00 L297.40,490.02 L296.80,489.53 L296.20,490.25 L295.60,490.99 L295.00,489.10 L294.40,488.93 L293.80,491.58 L293.20,490.56 L292.60,490.05 L292.00,489.07 L291.40,488.97 L290.80,488.73 L290.20,488.85 L289.60,489.26 L289.00,488.71 L288.40,488.83 L287.80,487.67 L287.20,487.68 L286.60,487.75 L286.00,488.01 L285.40,487.75 L284.80,487.92 L284.20,487.19 L283.60,488.77 L283.00,488.29 L282.40,486.23 L281.80,486.20 L281.20,488.35 L280.60,487.20 L280.00,487.69 L279.40,486.37 L278.80,486.40 L278.20,485.88 L277.60,485.91 L277.00,485.49 L276.40,485.10 L275.80,485.87 L275.20,484.45 L274.60,484.57 L274.00,484.54 L273.40,484.99 L272.80,483.70 L272.20,483.53 L271.60,483.43 L271.00,483.69 L270.40,483.66 L269.80,484.00 L269.20,482.95 L268.60,483.84 L268.00,483.28 L267.40,483.45 L266.80,482.33 L266.20,482.91 L265.60,482.29 L265.00,482.79 L264.40,483.33 L263.80,483.08 L263.20,482.20 L262.60,482.86 L262.00,481.54 L261.40,481.31 L260.80,481.46 L260.20,481.51 L259.60,482.19 L259.00,480.57 L258.40,481.42 L257.80,482.05 L257.20,480.44 L256.60,481.31 L256.00,480.23 L255.40,481.42 L254.80,481.41 L254.20,480.33 L253.60,480.29 L253.00,480.44 L252.40,480.23 L251.80,480.36 L251.20,480.09 L250.60,480.46 L250.00,480.57 L249.40,480.45 L248.80,480.16 L248.20,481.03 L247.60,479.62 L247.00,479.95 L246.40,479.56 L245.80,481.69 L245.20,480.02 L244.60,480.86 L244.00,479.20 L243.40,479.68 L242.80,479.00 L242.20,480.05 L241.60,478.15 L241.00,478.19 L240.40,479.12 L239.80,479.06 L239.20,480.08 L238.60,479.68 L238.00,478.93 L237.40,478.70 L236.80,478.56 L236.20,479.18 L235.60,478.72 L235.00,478.30 L234.40,478.39 L233.80,477.70 L233.20,476.81 L232.60,477.34 L232.00,477.87 L231.40,477.06 L230.80,477.15 L230.20,478.00 L229.60,478.74 L229.00,476.87 L228.40,477.11 L227.80,476.77 L227.20,476.42 L226.60,476.30 L226.00,476.80 L225.40,477.39 L224.80,477.07 L224.20,479.02 L223.60,477.20 L223.00,476.89 L222.40,476.36 L221.80,477.06 L221.20,476.10 L220.60,476.89 L220.00,476.54 L219.40,476.36 L218.80,477.11 L218.20,477.36 L217.60,476.12 L217.00,476.43 L216.40,476.07 L215.80,476.38 L215.20,477.19 L214.60,476.05 L214.00,475.93 L213.40,477.59 L212.80,475.43 L212.20,476.43 L211.60,475.41 L211.00,475.50 L210.40,474.97 L209.80,474.17 L209.20,475.30 L208.60,473.89 L208.00,474.30 L207.40,474.33 L206.80,473.86 L206.20,473.95 L205.60,473.36 L205.00,472.42 L204.40,472.70 L203.80,472.10 L203.20,470.61 L202.60,471.98 L202.00,470.52 L201.40,468.56 L200.80,468.98 L200.20,466.63 L199.60,465.54 L199.00,467.32 L198.40,462.47 L197.80,461.78 L197.20,459.65 L196.60,458.17 L196.00,456.85 L195.40,455.88 L194.80,454.45 L194.20,453.28 L193.60,451.82 L193.00,450.20 Z" fill="#c98060" stroke="#c98060" stroke-width="0.3"/>
<path d="M172.50,264.30 L172.80,260.88 L173.10,259.36 L173.40,257.96 L173.70,256.89 L174.00,256.50 L174.30,256.54 L174.60,256.07 L174.90,257.14 L175.20,259.55 L175.50,261.70 L175.80,264.71 L176.10,268.08 L176.40,272.72 L176.70,278.47 L177.00,287.39 L177.30,297.25 L177.60,305.68 L177.90,313.76 L178.20,322.49 L178.50,330.62 L178.80,338.73 L179.10,345.71 L179.40,352.29 L179.70,358.31 L180.00,363.78 L180.30,369.64 L180.60,374.90 L180.90,379.92 L181.20,384.52 L181.50,388.64 L181.80,392.16 L182.10,396.16 L182.40,399.01 L182.70,402.27 L183.00,405.37 L183.30,407.54 L183.60,410.62 L183.90,412.81 L184.20,415.24 L184.50,416.81 L184.80,419.37 L185.10,420.98 L185.40,423.29 L185.70,425.03 L186.00,426.92 L186.30,428.45 L186.60,430.09 L186.90,431.42 L187.20,433.01 L187.50,434.40 L187.80,435.64 L188.10,436.99 L188.40,438.34 L188.70,439.35 L189.00,440.70 L189.30,441.61 L189.60,442.81 L189.90,443.96 L190.20,445.02 L190.50,446.38 L190.80,447.31 L191.10,448.94 L191.40,449.64 L191.70,450.79 L192.00,452.16" fill="none" stroke="#006200" stroke-width="3.3" stroke-linejoin="round"/>
<path d="M186.00,426.68 L186.25,428.01 L186.50,429.29 L186.75,430.93 L187.00,432.26 L187.25,433.41 L187.50,434.28 L187.75,435.41 L188.00,435.79 L188.25,437.09 L188.50,438.06 L188.75,438.51 L189.00,440.39 L189.25,440.82 L189.50,440.90 L189.75,441.60 L190.00,444.93 L190.25,445.43 L190.50,445.55 L190.75,447.41 L191.00,447.81 L191.25,448.30 L191.50,449.73 L191.75,451.91 L192.00,450.14 L192.25,449.77 L192.50,450.60 L192.75,454.02 L193.00,453.21 L193.25,456.08 L193.50,457.10 L193.75,457.43 L194.00,460.73 L194.25,457.42 L194.50,464.15 L194.75,463.93 L195.00,467.22 L195.25,464.83 L195.50,465.78 L195.75,465.40 L196.00,464.55 L196.25,468.58 L196.50,470.55 L196.75,470.47 L197.00,473.71 L197.25,471.90 L197.50,474.87 L197.75,479.14 L198.00,474.27 L198.25,476.70 L198.50,474.72 L198.75,476.49 L199.00,477.64 L199.25,480.45 L199.50,481.62 L199.75,480.54 L200.00,481.49 L200.25,483.46 L200.50,483.34 L200.75,483.06 L201.00,482.45 L201.25,482.88 L201.50,481.89 L201.75,485.73 L202.00,481.38 L202.25,488.70 L202.50,485.92 L202.75,488.60 L203.00,489.62 L203.25,489.93 L203.50,488.09 L203.75,487.43 L204.00,490.54 L204.25,488.31 L204.50,492.16 L204.75,489.68 L205.00,492.52 L205.25,489.51 L205.50,490.83 L205.75,494.52 L206.00,491.06" fill="none" stroke="#006200" stroke-width="3.0" stroke-linejoin="round"/>
<path d="M200.00,479.96 L200.55,480.93 L201.10,482.31 L201.65,483.17 L202.20,484.09 L202.75,484.65 L203.30,484.40 L203.85,486.45 L204.40,486.99 L204.95,487.86 L205.50,488.78 L206.05,488.22 L206.60,487.56 L207.15,489.70 L207.70,490.42 L208.25,491.14 L208.80,492.57 L209.35,492.56 L209.90,492.13 L210.45,493.84 L211.00,491.76 L211.55,493.85 L212.10,495.65 L212.65,495.64 L213.20,495.65 L213.75,495.06 L214.30,496.56 L214.85,494.58 L215.40,497.81 L215.95,496.82 L216.50,498.50 L217.05,498.56 L217.60,494.74 L218.15,498.00 L218.70,499.47 L219.25,498.74 L219.80,499.77 L220.35,500.80 L220.90,497.77 L221.45,500.18 L222.00,499.53 L222.55,499.32 L223.10,502.36 L223.65,501.56 L224.20,502.41 L224.75,501.35 L225.30,503.37 L225.85,502.98 L226.40,501.52 L226.95,502.14 L227.50,501.67 L228.05,503.51 L228.60,500.32 L229.15,501.85 L229.70,501.59 L230.25,502.36 L230.80,502.14 L231.35,501.98 L231.90,502.28 L232.45,502.14 L233.00,501.72 L233.55,503.30 L234.10,503.28 L234.65,503.23 L235.20,502.08 L235.75,502.92 L236.30,502.89 L236.85,503.73 L237.40,503.78 L237.95,503.67 L238.50,503.74 L239.05,502.64 L239.60,500.96 L240.15,503.90 L240.70,502.49 L241.25,503.82 L241.80,503.72 L242.35,503.20 L242.90,501.91 L243.45,502.31 L244.00,503.18 L244.55,503.94 L245.10,502.82 L245.65,501.67 L246.20,502.46 L246.75,502.13 L247.30,502.94 L247.85,501.69 L248.40,502.42 L248.95,502.46 L249.50,501.34 L250.05,502.04 L250.60,502.40 L251.15,502.43 L251.70,501.48 L252.25,500.74 L252.80,500.08 L253.35,501.33 L253.90,500.83 L254.45,499.79 L255.00,499.01 L255.55,497.68 L256.10,499.69 L256.65,499.01 L257.20,498.52 L257.75,499.35 L258.30,499.61 L258.85,497.94 L259.40,498.82 L259.95,499.73 L260.50,499.79 L261.05,498.77 L261.60,499.26 L262.15,499.36 L262.70,499.61 L263.25,499.55 L263.80,498.67 L264.35,498.86 L264.90,495.58 L265.45,498.12 L266.00,498.40 L266.55,498.22 L267.10,497.21 L267.65,497.02 L268.20,496.99 L268.75,495.78 L269.30,496.38 L269.85,496.13 L270.40,496.19 L270.95,497.56 L271.50,496.90 L272.05,497.71 L272.60,497.26 L273.15,497.48 L273.70,497.29 L274.25,496.32 L274.80,498.40 L275.35,498.40 L275.90,498.32 L276.45,497.53 L277.00,497.13 L277.55,497.71 L278.10,496.51 L278.65,497.12 L279.20,496.94 L279.75,497.55 L280.30,497.51 L280.85,497.82 L281.40,496.96 L281.95,496.84 L282.50,496.92 L283.05,497.20 L283.60,496.66 L284.15,497.85 L284.70,497.69 L285.25,497.75 L285.80,497.52 L286.35,497.75 L286.90,497.41 L287.45,498.26 L288.00,495.63 L288.55,496.95 L289.10,495.80 L289.65,496.65 L290.20,497.00 L290.75,495.89 L291.30,498.09 L291.85,496.87 L292.40,498.06 L292.95,497.89 L293.50,497.95 L294.05,498.49 L294.60,498.14 L295.15,498.00 L295.70,497.59 L296.25,497.33 L296.80,498.07 L297.35,497.11 L297.90,498.63 L298.45,498.51 L299.00,497.45 L299.55,497.94 L300.10,497.83 L300.65,498.63 L301.20,498.44 L301.75,499.16 L302.30,498.71 L302.85,498.80 L303.40,498.52 L303.95,497.21 L304.50,497.03 L305.05,497.03 L305.60,496.78 L306.15,498.81 L306.70,499.08 L307.25,499.53 L307.80,497.69 L308.35,498.58 L308.90,496.91 L309.45,498.30 L310.00,499.30 L310.55,499.22 L311.10,499.03 L311.65,496.56 L312.20,498.28 L312.75,497.60 L313.30,495.64 L313.85,498.49 L314.40,497.71 L314.95,497.37 L315.50,498.61 L316.05,498.90 L316.60,498.41 L317.15,498.19 L317.70,498.90 L318.25,498.35 L318.80,497.61 L319.35,497.20 L319.90,498.62 L320.45,497.82 L321.00,496.95 L321.55,496.87 L322.10,497.56 L322.65,498.39 L323.20,498.33 L323.75,497.60 L324.30,496.76 L324.85,497.45 L325.40,497.02 L325.95,497.53 L326.50,497.25 L327.05,497.28 L327.60,497.82 L328.15,495.10 L328.70,495.47 L329.25,497.51 L329.80,497.47 L330.35,498.08 L330.90,497.56 L331.45,496.19 L332.00,497.50 L332.55,497.57 L333.10,497.39 L333.65,495.96 L334.20,496.58 L334.75,496.55 L335.30,495.84 L335.85,496.74 L336.40,497.81 L336.95,497.80 L337.50,498.66 L338.05,498.30 L338.60,497.28 L339.15,496.67 L339.70,495.27 L340.25,496.71 L340.80,496.51 L341.35,497.83 L341.90,498.11 L342.45,496.83 L343.00,496.02 L343.55,495.17 L344.10,495.49 L344.65,497.40 L345.20,497.07 L345.75,496.75 L346.30,497.61 L346.85,496.63 L347.40,497.78 L347.95,497.82 L348.50,497.33 L349.05,497.88 L349.60,497.28 L350.15,497.72 L350.70,496.91 L351.25,496.63 L351.80,495.99 L352.35,496.91 L352.90,498.38 L353.45,497.63 L354.00,498.64 L354.55,497.47 L355.10,498.07 L355.65,497.68 L356.20,497.73 L356.75,496.24 L357.30,498.38 L357.85,496.76 L358.40,497.55 L358.95,496.19 L359.50,496.85 L360.05,494.10 L360.60,495.07 L361.15,494.96 L361.70,498.59 L362.25,497.47 L362.80,497.96 L363.35,497.46 L363.90,497.14 L364.45,497.18 L365.00,498.38 L365.55,498.82 L366.10,497.69 L366.65,497.52 L367.20,497.85 L367.75,498.57 L368.30,497.87 L368.85,495.69 L369.40,497.08 L369.95,499.07 L370.50,498.56 L371.05,497.27 L371.60,496.88 L372.15,497.22 L372.70,498.38 L373.25,496.88 L373.80,497.31 L374.35,494.05 L374.90,497.46 L375.45,496.02 L376.00,497.97 L376.55,495.57 L377.10,497.34 L377.65,498.02 L378.20,498.32 L378.75,497.50 L379.30,496.02 L379.85,497.50 L380.40,497.00 L380.95,497.39 L381.50,498.08 L382.05,498.57 L382.60,498.71 L383.15,498.28 L383.70,498.13 L384.25,497.53 L384.80,498.24 L385.35,498.14 L385.90,497.87 L386.45,496.34 L387.00,497.77 L387.55,498.31 L388.10,496.60 L388.65,497.77 L389.20,494.76 L389.75,498.13 L390.30,497.39 L390.85,497.20 L391.40,496.81 L391.95,497.51 L392.50,498.04 L393.05,497.28 L393.60,495.47 L394.15,498.33 L394.70,497.81 L395.25,497.71 L395.80,497.15 L396.35,497.57 L396.90,497.85 L397.45,499.00 L398.00,498.28 L398.55,498.69 L399.10,498.62 L399.65,496.59 L400.20,498.10 L400.75,499.17 L401.30,498.55 L401.85,495.82 L402.40,498.86 L402.95,498.29 L403.50,498.93 L404.05,495.27 L404.60,498.50 L405.15,497.33 L405.70,498.36 L406.25,498.49 L406.80,498.34 L407.35,497.49 L407.90,496.56 L408.45,499.03 L409.00,498.41 L409.55,494.72 L410.10,498.26 L410.65,496.85 L411.20,497.13 L411.75,499.19 L412.30,498.62 L412.85,498.46 L413.40,497.95 L413.95,498.70 L414.50,498.46 L415.05,498.30 L415.60,496.81 L416.15,497.67 L416.70,497.26 L417.25,498.53 L417.80,497.32 L418.35,498.60 L418.90,498.85 L419.45,498.36 L420.00,498.09 L420.55,495.71 L421.10,495.86 L421.65,497.92 L422.20,498.42 L422.75,498.43 L423.30,497.93 L423.85,496.29 L424.40,497.44 L424.95,497.92 L425.50,498.40 L426.05,496.93 L426.60,497.00 L427.15,497.94 L427.70,496.49 L428.25,497.16 L428.80,498.41 L429.35,497.57 L429.90,498.12 L430.45,497.44 L431.00,496.64 L431.55,495.96 L432.10,497.99 L432.65,498.78 L433.20,498.10 L433.75,497.50 L434.30,496.42 L434.85,497.54 L435.40,497.35 L435.95,498.46 L436.50,496.55 L437.05,498.32 L437.60,498.11 L438.15,499.25 L438.70,498.08 L439.25,495.73 L439.80,498.20 L440.35,499.17 L440.90,498.71 L441.45,498.67 L442.00,498.37 L442.55,497.86 L443.10,498.35 L443.65,497.89 L444.20,497.36 L444.75,499.24 L445.30,496.58 L445.85,498.76 L446.40,498.96 L446.95,498.49 L447.50,498.51 L448.05,498.46 L448.60,498.05 L449.15,498.10 L449.70,498.76 L450.25,498.74 L450.80,498.40 L451.35,496.65 L451.90,496.97 L452.45,498.09 L453.00,497.94 L453.55,497.91 L454.10,497.48 L454.65,498.02 L455.20,498.74 L455.75,498.74 L456.30,497.85 L456.85,499.19 L457.40,497.85 L457.95,497.53 L458.50,497.16 L459.05,498.61 L459.60,497.56 L460.15,496.87 L460.70,497.59 L461.25,496.95 L461.80,497.23 L462.35,496.74 L462.90,499.13 L463.45,497.74 L464.00,497.67 L464.55,498.94 L465.10,498.06 L465.65,496.25 L466.20,498.00 L466.75,495.77 L467.30,497.80 L467.85,497.46 L468.40,498.97 L468.95,498.61 L469.50,499.69 L470.05,499.21 L470.60,495.99 L471.15,499.37 L471.70,500.12 L472.25,499.69 L472.80,498.86 L473.35,499.53 L473.90,499.84 L474.45,499.28 L475.00,498.72 L475.55,499.74 L476.10,498.09 L476.65,499.71 L477.20,499.40 L477.75,498.47 L478.30,498.63 L478.85,498.89 L479.40,499.09 L479.95,497.95 L480.50,498.27 L481.05,498.64 L481.60,496.01 L482.15,498.76 L482.70,498.88 L483.25,498.15 L483.80,498.48 L484.35,498.15 L484.90,498.48 L485.45,497.43 L486.00,498.04 L486.55,498.76 L487.10,498.47 L487.65,498.96 L488.20,499.14 L488.75,498.43 L489.30,499.00 L489.85,499.34 L490.40,498.37 L490.95,499.39 L491.50,499.32 L492.05,497.36 L492.60,495.59 L493.15,497.11 L493.70,497.26 L494.25,497.78 L494.80,498.64 L495.35,499.20 L495.90,499.07 L496.45,497.53 L497.00,496.84 L497.55,497.65 L498.10,499.56 L498.65,497.01 L499.20,497.68 L499.75,497.92 L500.30,497.35 L500.85,498.68 L501.40,497.26 L501.95,497.51 L502.50,498.26 L503.05,497.73 L503.60,498.53 L504.15,494.98 L504.70,497.09 L505.25,497.79 L505.80,496.31 L506.35,496.38 L506.90,499.02 L507.45,498.69 L508.00,498.53 L508.55,498.54 L509.10,497.23 L509.65,498.18 L510.20,497.52 L510.75,499.54 L511.30,498.90 L511.85,498.58 L512.40,499.92 L512.95,499.70 L513.50,499.99 L514.05,499.37 L514.60,500.10 L515.15,498.63 L515.70,499.70 L516.25,499.07 L516.80,498.41 L517.35,497.95 L517.90,499.46 L518.45,499.07 L519.00,499.62 L519.55,499.18 L520.10,498.54 L520.65,498.83 L521.20,499.67 L521.75,499.20 L522.30,499.25 L522.85,498.53 L523.40,498.42 L523.95,498.55 L524.50,498.79 L525.05,497.40 L525.60,497.56 L526.15,499.16 L526.70,500.07 L526.70,509.58 L526.15,507.73 L525.60,508.22 L525.05,506.96 L524.50,509.62 L523.95,507.74 L523.40,507.22 L522.85,507.33 L522.30,508.99 L521.75,508.90 L521.20,508.26 L520.65,508.04 L520.10,507.66 L519.55,507.81 L519.00,506.74 L518.45,507.07 L517.90,507.44 L517.35,506.88 L516.80,507.66 L516.25,509.22 L515.70,508.49 L515.15,507.87 L514.60,507.26 L514.05,507.35 L513.50,510.05 L512.95,509.44 L512.40,509.12 L511.85,507.59 L511.30,507.06 L510.75,508.40 L510.20,507.66 L509.65,506.33 L509.10,506.80 L508.55,506.94 L508.00,506.79 L507.45,506.25 L506.90,506.09 L506.35,507.41 L505.80,505.84 L505.25,506.20 L504.70,506.43 L504.15,506.55 L503.60,506.46 L503.05,509.30 L502.50,507.45 L501.95,507.82 L501.40,507.92 L500.85,506.22 L500.30,508.31 L499.75,507.15 L499.20,506.73 L498.65,507.37 L498.10,507.28 L497.55,506.95 L497.00,509.63 L496.45,506.24 L495.90,506.27 L495.35,508.31 L494.80,507.10 L494.25,507.73 L493.70,507.45 L493.15,506.19 L492.60,506.46 L492.05,506.27 L491.50,507.39 L490.95,507.98 L490.40,507.66 L489.85,506.58 L489.30,507.51 L488.75,507.32 L488.20,507.12 L487.65,506.17 L487.10,506.14 L486.55,506.69 L486.00,507.96 L485.45,507.31 L484.90,506.29 L484.35,507.32 L483.80,507.72 L483.25,506.26 L482.70,507.51 L482.15,508.58 L481.60,507.54 L481.05,508.30 L480.50,507.09 L479.95,506.07 L479.40,506.99 L478.85,507.22 L478.30,508.20 L477.75,507.10 L477.20,507.95 L476.65,507.97 L476.10,506.99 L475.55,507.02 L475.00,507.99 L474.45,508.80 L473.90,508.43 L473.35,508.37 L472.80,507.55 L472.25,507.85 L471.70,509.49 L471.15,507.13 L470.60,507.26 L470.05,506.91 L469.50,506.97 L468.95,506.74 L468.40,506.54 L467.85,509.07 L467.30,506.96 L466.75,505.87 L466.20,507.72 L465.65,506.36 L465.10,506.83 L464.55,507.89 L464.00,507.22 L463.45,506.02 L462.90,505.98 L462.35,507.70 L461.80,509.27 L461.25,508.15 L460.70,506.81 L460.15,507.79 L459.60,507.79 L459.05,507.27 L458.50,507.72 L457.95,507.20 L457.40,506.70 L456.85,506.47 L456.30,506.60 L455.75,507.37 L455.20,508.75 L454.65,506.98 L454.10,507.98 L453.55,507.19 L453.00,506.66 L452.45,506.29 L451.90,508.69 L451.35,507.61 L450.80,506.75 L450.25,506.36 L449.70,507.22 L449.15,506.66 L448.60,505.87 L448.05,507.16 L447.50,506.25 L446.95,505.90 L446.40,507.95 L445.85,506.59 L445.30,506.28 L444.75,507.76 L444.20,506.89 L443.65,507.17 L443.10,506.89 L442.55,506.83 L442.00,507.07 L441.45,507.56 L440.90,506.32 L440.35,506.22 L439.80,506.69 L439.25,507.28 L438.70,506.28 L438.15,506.26 L437.60,506.60 L437.05,507.10 L436.50,506.35 L435.95,506.80 L435.40,506.66 L434.85,507.37 L434.30,506.07 L433.75,507.66 L433.20,506.64 L432.65,506.06 L432.10,507.11 L431.55,506.73 L431.00,506.43 L430.45,505.86 L429.90,506.66 L429.35,506.17 L428.80,506.61 L428.25,506.87 L427.70,507.08 L427.15,507.92 L426.60,505.74 L426.05,505.70 L425.50,505.36 L424.95,505.89 L424.40,506.10 L423.85,506.61 L423.30,505.37 L422.75,507.07 L422.20,506.53 L421.65,506.24 L421.10,506.33 L420.55,505.87 L420.00,506.00 L419.45,505.77 L418.90,506.30 L418.35,506.49 L417.80,506.38 L417.25,507.17 L416.70,508.34 L416.15,506.14 L415.60,505.70 L415.05,505.99 L414.50,507.18 L413.95,507.10 L413.40,508.45 L412.85,508.02 L412.30,508.02 L411.75,507.41 L411.20,507.48 L410.65,507.84 L410.10,507.11 L409.55,508.80 L409.00,506.79 L408.45,507.98 L407.90,505.85 L407.35,506.67 L406.80,508.91 L406.25,505.99 L405.70,506.50 L405.15,507.14 L404.60,509.10 L404.05,507.16 L403.50,506.99 L402.95,505.85 L402.40,505.89 L401.85,507.40 L401.30,507.24 L400.75,506.37 L400.20,507.22 L399.65,506.80 L399.10,506.12 L398.55,507.32 L398.00,506.27 L397.45,507.14 L396.90,507.48 L396.35,507.12 L395.80,506.99 L395.25,505.43 L394.70,506.83 L394.15,506.62 L393.60,505.25 L393.05,506.23 L392.50,506.46 L391.95,505.97 L391.40,508.09 L390.85,506.46 L390.30,505.68 L389.75,505.79 L389.20,505.36 L388.65,506.02 L388.10,506.57 L387.55,505.21 L387.00,505.24 L386.45,506.00 L385.90,507.07 L385.35,505.71 L384.80,507.37 L384.25,505.83 L383.70,505.70 L383.15,505.68 L382.60,506.33 L382.05,507.41 L381.50,505.76 L380.95,506.46 L380.40,505.19 L379.85,507.15 L379.30,505.47 L378.75,505.68 L378.20,505.81 L377.65,506.84 L377.10,507.14 L376.55,505.94 L376.00,506.16 L375.45,505.92 L374.90,505.66 L374.35,506.48 L373.80,506.26 L373.25,508.42 L372.70,505.92 L372.15,505.81 L371.60,507.04 L371.05,506.49 L370.50,508.21 L369.95,506.76 L369.40,505.98 L368.85,507.80 L368.30,506.97 L367.75,506.38 L367.20,508.44 L366.65,507.99 L366.10,506.21 L365.55,506.11 L365.00,505.94 L364.45,509.15 L363.90,505.91 L363.35,506.24 L362.80,506.24 L362.25,505.72 L361.70,506.48 L361.15,507.19 L360.60,506.59 L360.05,508.82 L359.50,506.76 L358.95,505.91 L358.40,505.86 L357.85,506.21 L357.30,507.24 L356.75,505.87 L356.20,506.17 L355.65,509.25 L355.10,505.75 L354.55,505.52 L354.00,505.72 L353.45,506.37 L352.90,508.00 L352.35,506.09 L351.80,506.07 L351.25,505.40 L350.70,506.06 L350.15,506.90 L349.60,507.24 L349.05,508.29 L348.50,506.23 L347.95,507.16 L347.40,505.23 L346.85,506.65 L346.30,506.30 L345.75,505.63 L345.20,506.10 L344.65,505.54 L344.10,505.59 L343.55,507.04 L343.00,506.36 L342.45,507.18 L341.90,506.66 L341.35,506.01 L340.80,506.53 L340.25,508.32 L339.70,506.54 L339.15,505.72 L338.60,506.18 L338.05,506.38 L337.50,507.49 L336.95,505.75 L336.40,505.72 L335.85,506.02 L335.30,505.55 L334.75,505.89 L334.20,505.34 L333.65,507.29 L333.10,505.28 L332.55,506.10 L332.00,505.49 L331.45,505.84 L330.90,506.79 L330.35,505.05 L329.80,506.80 L329.25,506.52 L328.70,505.07 L328.15,505.84 L327.60,505.23 L327.05,505.68 L326.50,505.56 L325.95,506.26 L325.40,505.60 L324.85,507.09 L324.30,508.26 L323.75,508.88 L323.20,508.92 L322.65,507.11 L322.10,505.87 L321.55,505.80 L321.00,505.78 L320.45,508.57 L319.90,506.39 L319.35,507.33 L318.80,506.81 L318.25,506.31 L317.70,507.23 L317.15,506.58 L316.60,505.76 L316.05,506.86 L315.50,506.58 L314.95,506.50 L314.40,509.87 L313.85,506.26 L313.30,509.82 L312.75,506.53 L312.20,507.40 L311.65,506.84 L311.10,506.41 L310.55,506.78 L310.00,508.73 L309.45,507.00 L308.90,507.36 L308.35,507.37 L307.80,506.87 L307.25,506.98 L306.70,506.43 L306.15,506.73 L305.60,506.20 L305.05,509.01 L304.50,508.37 L303.95,507.07 L303.40,505.97 L302.85,506.56 L302.30,506.34 L301.75,506.51 L301.20,507.65 L300.65,506.31 L300.10,506.53 L299.55,506.57 L299.00,506.27 L298.45,509.09 L297.90,507.10 L297.35,505.97 L296.80,506.48 L296.25,506.77 L295.70,506.58 L295.15,507.18 L294.60,509.29 L294.05,506.88 L293.50,505.66 L292.95,505.34 L292.40,506.59 L291.85,505.22 L291.30,509.46 L290.75,506.09 L290.20,505.23 L289.65,508.27 L289.10,505.55 L288.55,505.20 L288.00,505.64 L287.45,505.73 L286.90,505.20 L286.35,507.30 L285.80,506.61 L285.25,507.48 L284.70,507.58 L284.15,506.52 L283.60,505.32 L283.05,505.22 L282.50,505.50 L281.95,504.46 L281.40,505.50 L280.85,504.67 L280.30,506.03 L279.75,504.89 L279.20,504.91 L278.65,506.45 L278.10,505.74 L277.55,505.66 L277.00,506.33 L276.45,506.32 L275.90,505.85 L275.35,506.06 L274.80,507.65 L274.25,505.93 L273.70,506.48 L273.15,505.82 L272.60,505.85 L272.05,507.14 L271.50,505.22 L270.95,505.24 L270.40,504.95 L269.85,505.60 L269.30,508.19 L268.75,505.55 L268.20,506.16 L267.65,505.55 L267.10,505.72 L266.55,505.71 L266.00,506.65 L265.45,506.14 L264.90,506.83 L264.35,506.64 L263.80,508.61 L263.25,506.95 L262.70,512.11 L262.15,508.87 L261.60,506.93 L261.05,508.34 L260.50,508.19 L259.95,507.67 L259.40,507.71 L258.85,508.50 L258.30,508.01 L257.75,508.26 L257.20,510.65 L256.65,508.44 L256.10,510.30 L255.55,508.62 L255.00,508.93 L254.45,508.29 L253.90,508.45 L253.35,509.48 L252.80,508.52 L252.25,509.93 L251.70,510.39 L251.15,510.56 L250.60,509.87 L250.05,512.15 L249.50,510.76 L248.95,511.31 L248.40,511.62 L247.85,510.44 L247.30,511.50 L246.75,510.63 L246.20,510.57 L245.65,512.93 L245.10,511.45 L244.55,510.83 L244.00,512.10 L243.45,511.79 L242.90,511.26 L242.35,512.07 L241.80,514.21 L241.25,511.56 L240.70,511.45 L240.15,512.49 L239.60,512.52 L239.05,512.26 L238.50,512.35 L237.95,511.73 L237.40,511.53 L236.85,511.15 L236.30,510.92 L235.75,510.74 L235.20,512.26 L234.65,512.18 L234.10,511.36 L233.55,513.19 L233.00,512.56 L232.45,510.97 L231.90,514.47 L231.35,512.81 L230.80,510.92 L230.25,512.92 L229.70,513.32 L229.15,510.67 L228.60,511.76 L228.05,512.87 L227.50,510.58 L226.95,512.41 L226.40,510.69 L225.85,513.34 L225.30,511.19 L224.75,510.72 L224.20,512.89 L223.65,509.76 L223.10,511.83 L222.55,509.06 L222.00,509.12 L221.45,509.23 L220.90,510.01 L220.35,508.69 L219.80,509.43 L219.25,507.48 L218.70,509.21 L218.15,506.80 L217.60,506.50 L217.05,506.51 L216.50,506.04 L215.95,508.32 L215.40,507.93 L214.85,505.73 L214.30,505.79 L213.75,504.82 L213.20,504.77 L212.65,505.65 L212.10,504.05 L211.55,503.44 L211.00,504.08 L210.45,501.01 L209.90,500.65 L209.35,501.63 L208.80,500.10 L208.25,500.52 L207.70,498.25 L207.15,497.97 L206.60,498.13 L206.05,496.45 L205.50,495.46 L204.95,494.17 L204.40,494.28 L203.85,491.90 L203.30,490.53 L202.75,489.44 L202.20,488.81 L201.65,487.22 L201.10,486.21 L200.55,484.47 L200.00,482.96 Z" fill="#006200" stroke="#006200" stroke-width="0.3"/>
<path d="M172.50,264.19 L172.80,260.76 L173.10,259.26 L173.40,257.45 L173.70,257.19 L174.00,256.69 L174.30,256.42 L174.60,256.19 L174.90,257.66 L175.20,259.67 L175.50,262.81 L175.80,266.26 L176.10,269.53 L176.40,274.07 L176.70,282.26 L177.00,293.29 L177.30,302.69 L177.60,311.61 L177.90,320.08 L178.20,328.52 L178.50,336.04 L178.80,343.64 L179.10,350.35 L179.40,356.10 L179.70,361.90 L180.00,367.67 L180.30,372.89 L180.60,378.05 L180.90,382.87 L181.20,387.21 L181.50,391.34 L181.80,394.95 L182.10,398.36 L182.40,401.05 L182.70,404.31 L183.00,406.69 L183.30,409.50 L183.60,411.83 L183.90,414.49 L184.20,416.57 L184.50,419.12 L184.80,421.22 L185.10,423.94 L185.40,426.11 L185.70,428.32 L186.00,431.03 L186.30,432.86 L186.60,434.86 L186.90,436.98 L187.20,438.66 L187.50,440.87 L187.80,442.29 L188.10,443.90 L188.40,445.65 L188.70,447.25 L189.00,448.91 L189.30,450.59 L189.60,451.85 L189.90,453.15 L190.20,454.55 L190.50,456.47 L190.80,457.29 L191.10,458.54 L191.40,459.87 L191.70,460.78 L192.00,461.77" fill="none" stroke="#826e91" stroke-width="2.2" stroke-linejoin="round"/>
<path d="M189.00,448.91 L189.30,450.37 L189.60,452.00 L189.90,453.45 L190.20,454.79 L190.50,456.06 L190.80,457.48 L191.10,459.35 L191.40,459.13 L191.70,460.55 L192.00,462.44 L192.30,461.73 L192.60,463.75 L192.90,464.29 L193.20,466.00 L193.50,467.32 L193.80,468.32 L194.10,470.14 L194.40,471.44 L194.70,472.60 L195.00,475.17 L195.30,475.94 L195.60,478.84 L195.90,479.05 L196.20,481.31 L196.50,483.48 L196.80,483.32 L197.10,484.41 L197.40,485.95 L197.70,485.92 L198.00,489.22 L198.30,490.13 L198.60,489.63 L198.90,491.47 L199.20,490.59 L199.50,494.37 L199.80,495.59 L200.10,496.09 L200.40,494.99 L200.70,494.65 L201.00,498.82 L201.30,499.38 L201.60,501.93 L201.90,499.59 L202.20,502.75 L202.50,503.05 L202.80,505.53 L203.10,504.50 L203.40,505.51 L203.70,505.06 L204.00,507.48 L204.30,507.73 L204.60,509.02 L204.90,509.64 L205.20,509.41 L205.50,511.19 L205.80,515.63 L206.10,513.21 L206.40,511.58 L206.70,513.42 L207.00,515.31 L207.30,515.04 L207.60,517.79 L207.90,514.63 L208.20,516.64 L208.50,517.76 L208.80,519.86 L209.10,518.25 L209.40,517.89 L209.70,519.07 L210.00,518.70 L210.30,518.25 L210.60,520.51 L210.90,523.33 L211.20,519.99 L211.50,523.34 L211.80,520.59" fill="none" stroke="#826e91" stroke-width="2.6" stroke-linejoin="round"/>
<path d="M205.00,508.32 L205.60,509.33 L206.20,510.37 L206.80,511.67 L207.40,512.33 L208.00,513.55 L208.60,514.33 L209.20,515.18 L209.80,515.77 L210.40,516.84 L211.00,517.57 L211.60,518.56 L212.20,517.70 L212.80,519.36 L213.40,518.50 L214.00,521.35 L214.60,522.50 L215.20,522.12 L215.80,523.28 L216.40,524.03 L217.00,524.98 L217.60,524.47 L218.20,525.43 L218.80,523.36 L219.40,526.80 L220.00,526.61 L220.60,527.80 L221.20,526.22 L221.80,527.32 L222.40,528.57 L223.00,528.41 L223.60,529.49 L224.20,529.00 L224.80,527.96 L225.40,529.47 L226.00,530.57 L226.60,530.80 L227.20,530.89 L227.80,528.79 L228.40,530.67 L229.00,530.80 L229.60,531.48 L230.20,531.63 L230.80,530.73 L231.40,530.13 L232.00,531.39 L232.60,531.73 L233.20,531.26 L233.80,532.25 L234.40,532.77 L235.00,533.05 L235.60,531.43 L236.20,532.51 L236.80,532.79 L237.40,533.24 L238.00,533.84 L238.60,532.84 L239.20,534.63 L239.80,533.20 L240.40,534.22 L241.00,535.08 L241.60,534.11 L242.20,535.25 L242.80,534.72 L243.40,535.62 L244.00,533.98 L244.60,535.59 L245.20,536.14 L245.80,535.74 L246.40,534.98 L247.00,536.15 L247.60,535.71 L248.20,536.00 L248.80,535.76 L249.40,536.00 L250.00,536.70 L250.60,536.17 L251.20,534.12 L251.80,536.46 L252.40,536.45 L253.00,534.13 L253.60,536.63 L254.20,536.72 L254.80,536.48 L255.40,537.21 L256.00,535.08 L256.60,536.12 L257.20,536.26 L257.80,536.78 L258.40,535.57 L259.00,535.53 L259.60,536.38 L260.20,535.80 L260.80,536.51 L261.40,535.56 L262.00,536.57 L262.60,536.70 L263.20,535.57 L263.80,537.43 L264.40,537.60 L265.00,537.65 L265.60,537.54 L266.20,537.18 L266.80,536.52 L267.40,536.65 L268.00,536.72 L268.60,536.06 L269.20,537.43 L269.80,537.53 L270.40,537.09 L271.00,537.19 L271.60,535.88 L272.20,537.66 L272.80,537.31 L273.40,537.37 L274.00,538.11 L274.60,537.75 L275.20,537.61 L275.80,537.64 L276.40,535.24 L277.00,537.54 L277.60,535.78 L278.20,536.55 L278.80,537.13 L279.40,536.99 L280.00,537.41 L280.60,536.19 L281.20,537.95 L281.80,537.72 L282.40,537.67 L283.00,536.32 L283.60,536.68 L284.20,537.17 L284.80,536.22 L285.40,537.48 L286.00,534.58 L286.60,537.92 L287.20,537.14 L287.80,537.23 L288.40,537.64 L289.00,538.19 L289.60,538.10 L290.20,538.23 L290.80,537.66 L291.40,537.96 L292.00,535.71 L292.60,537.43 L293.20,535.49 L293.80,536.37 L294.40,537.21 L295.00,537.17 L295.60,536.46 L296.20,537.09 L296.80,537.00 L297.40,535.44 L298.00,536.83 L298.60,536.01 L299.20,536.18 L299.80,536.07 L300.40,536.74 L301.00,536.14 L301.60,536.39 L302.20,536.48 L302.80,536.41 L303.40,536.32 L304.00,535.11 L304.60,536.08 L305.20,535.91 L305.80,536.39 L306.40,535.73 L307.00,536.22 L307.60,535.15 L308.20,534.88 L308.80,534.26 L309.40,535.48 L310.00,533.64 L310.60,534.29 L311.20,535.09 L311.80,534.86 L312.40,535.00 L313.00,534.60 L313.60,534.44 L314.20,533.99 L314.80,533.75 L315.40,534.09 L316.00,534.25 L316.60,533.46 L317.20,533.04 L317.80,532.01 L318.40,532.88 L319.00,532.98 L319.60,533.01 L320.20,533.26 L320.80,532.19 L321.40,532.74 L322.00,533.03 L322.60,533.00 L323.20,532.18 L323.80,531.23 L324.40,531.42 L325.00,530.97 L325.60,530.73 L326.20,529.66 L326.80,531.00 L327.40,529.98 L328.00,530.40 L328.60,530.93 L329.20,529.73 L329.80,530.40 L330.40,531.16 L331.00,530.99 L331.60,530.08 L332.20,530.20 L332.80,529.84 L333.40,530.10 L334.00,529.52 L334.60,528.54 L335.20,528.94 L335.80,528.94 L336.40,527.26 L337.00,528.05 L337.60,529.08 L338.20,528.56 L338.80,528.62 L339.40,528.29 L340.00,527.10 L340.60,528.54 L341.20,528.24 L341.80,528.45 L342.40,528.05 L343.00,527.11 L343.60,525.73 L344.20,526.03 L344.80,527.03 L345.40,526.48 L346.00,526.58 L346.60,525.95 L347.20,526.06 L347.80,525.95 L348.40,524.83 L349.00,525.27 L349.60,525.88 L350.20,525.48 L350.80,525.67 L351.40,525.59 L352.00,525.51 L352.60,522.37 L353.20,525.26 L353.80,524.83 L354.40,523.44 L355.00,524.41 L355.60,521.79 L356.20,524.45 L356.80,523.40 L357.40,523.30 L358.00,522.86 L358.60,522.96 L359.20,523.29 L359.80,521.70 L360.40,523.13 L361.00,522.21 L361.60,522.30 L362.20,520.75 L362.80,522.34 L363.40,522.17 L364.00,520.74 L364.60,521.96 L365.20,521.79 L365.80,521.90 L366.40,521.90 L367.00,520.27 L367.60,521.87 L368.20,522.07 L368.80,521.62 L369.40,521.06 L370.00,519.82 L370.60,520.81 L371.20,521.33 L371.80,519.77 L372.40,519.76 L373.00,520.91 L373.60,520.47 L374.20,519.26 L374.80,520.37 L375.40,519.74 L376.00,520.39 L376.60,520.09 L377.20,519.43 L377.80,519.24 L378.40,520.42 L379.00,520.27 L379.60,519.22 L380.20,517.98 L380.80,519.61 L381.40,518.78 L382.00,518.42 L382.60,517.35 L383.20,517.41 L383.80,518.59 L384.40,518.20 L385.00,516.78 L385.60,515.82 L386.20,518.07 L386.80,517.04 L387.40,517.82 L388.00,516.33 L388.60,516.65 L389.20,517.52 L389.80,516.42 L390.40,516.77 L391.00,516.83 L391.60,516.32 L392.20,515.91 L392.80,516.57 L393.40,515.90 L394.00,516.40 L394.60,516.53 L395.20,515.30 L395.80,516.19 L396.40,516.15 L397.00,514.32 L397.60,515.13 L398.20,515.31 L398.80,515.65 L399.40,515.29 L400.00,515.59 L400.60,514.37 L401.20,513.38 L401.80,513.54 L402.40,514.05 L403.00,514.73 L403.60,513.14 L404.20,514.89 L404.80,514.48 L405.40,514.41 L406.00,513.81 L406.60,513.52 L407.20,513.11 L407.80,514.23 L408.40,513.92 L409.00,512.61 L409.60,512.26 L410.20,513.37 L410.80,513.39 L411.40,513.55 L412.00,513.46 L412.60,512.82 L413.20,513.49 L413.80,511.33 L414.40,513.00 L415.00,512.12 L415.60,511.49 L416.20,513.00 L416.80,512.27 L417.40,512.84 L418.00,511.74 L418.60,510.59 L419.20,512.26 L419.80,512.45 L420.40,511.39 L421.00,510.97 L421.60,510.25 L422.20,511.56 L422.80,511.58 L423.40,511.93 L424.00,511.14 L424.60,511.11 L425.20,511.61 L425.80,511.92 L426.40,510.68 L427.00,511.64 L427.60,511.36 L428.20,511.24 L428.80,509.57 L429.40,511.17 L430.00,509.48 L430.60,510.50 L431.20,510.72 L431.80,510.30 L432.40,509.76 L433.00,508.91 L433.60,511.04 L434.20,510.96 L434.80,510.60 L435.40,509.02 L436.00,510.21 L436.60,509.97 L437.20,510.94 L437.80,509.80 L438.40,510.25 L439.00,510.19 L439.60,510.92 L440.20,509.09 L440.80,508.76 L441.40,510.10 L442.00,511.05 L442.60,510.00 L443.20,510.42 L443.80,509.12 L444.40,509.23 L445.00,509.53 L445.60,510.68 L446.20,510.53 L446.80,510.76 L447.40,509.91 L448.00,510.40 L448.60,510.70 L449.20,509.73 L449.80,510.81 L450.40,509.26 L451.00,509.23 L451.60,510.36 L452.20,510.25 L452.80,510.78 L453.40,510.82 L454.00,510.52 L454.60,511.05 L455.20,510.60 L455.80,510.75 L456.40,510.89 L457.00,510.57 L457.60,510.15 L458.20,509.40 L458.80,510.20 L459.40,510.58 L460.00,510.24 L460.60,510.29 L461.20,510.55 L461.80,510.53 L462.40,510.72 L463.00,509.41 L463.60,510.48 L464.20,508.02 L464.80,509.95 L465.40,509.79 L466.00,508.75 L466.60,509.53 L467.20,509.72 L467.80,509.87 L468.40,507.73 L469.00,509.27 L469.60,509.52 L470.20,508.30 L470.80,509.01 L471.40,508.80 L472.00,509.55 L472.60,509.50 L473.20,509.29 L473.80,508.55 L474.40,508.90 L475.00,508.39 L475.60,508.94 L476.20,508.90 L476.80,509.85 L477.40,508.44 L478.00,509.34 L478.60,509.85 L479.20,509.02 L479.80,509.44 L480.40,509.29 L481.00,508.19 L481.60,508.08 L482.20,509.04 L482.80,509.35 L483.40,507.36 L484.00,508.98 L484.60,509.17 L485.20,509.08 L485.80,508.86 L486.40,508.27 L487.00,507.97 L487.60,507.29 L488.20,507.26 L488.80,507.52 L489.40,508.99 L490.00,508.27 L490.60,506.82 L491.20,508.82 L491.80,508.38 L492.40,509.28 L493.00,508.64 L493.60,509.36 L494.20,509.06 L494.80,508.16 L495.40,507.10 L496.00,508.08 L496.60,508.79 L497.20,507.08 L497.80,507.91 L498.40,507.84 L499.00,508.28 L499.60,507.29 L500.20,508.40 L500.80,507.71 L501.40,507.60 L502.00,507.85 L502.60,507.43 L503.20,508.31 L503.80,507.22 L504.40,507.73 L505.00,506.74 L505.60,507.23 L506.20,508.29 L506.80,507.91 L507.40,506.97 L508.00,507.92 L508.60,507.22 L509.20,507.98 L509.80,507.15 L510.40,505.17 L511.00,507.12 L511.60,507.06 L512.20,507.48 L512.80,506.49 L513.40,507.07 L514.00,506.91 L514.60,506.17 L515.20,506.86 L515.80,507.97 L516.40,507.65 L517.00,506.67 L517.60,507.03 L518.20,505.31 L518.80,506.74 L519.40,507.00 L520.00,507.44 L520.60,507.21 L521.20,506.62 L521.80,507.43 L522.40,507.15 L523.00,505.64 L523.60,507.24 L524.20,507.12 L524.80,507.52 L525.40,507.33 L526.00,507.22 L526.60,505.73 L526.60,512.54 L526.00,512.80 L525.40,513.01 L524.80,514.21 L524.20,514.08 L523.60,512.73 L523.00,512.18 L522.40,512.98 L521.80,512.84 L521.20,514.90 L520.60,512.02 L520.00,513.06 L519.40,513.12 L518.80,513.29 L518.20,515.06 L517.60,513.14 L517.00,513.14 L516.40,513.41 L515.80,514.20 L515.20,512.56 L514.60,512.79 L514.00,512.49 L513.40,513.92 L512.80,512.78 L512.20,513.37 L511.60,513.55 L511.00,512.68 L510.40,513.94 L509.80,513.68 L509.20,514.07 L508.60,513.77 L508.00,513.18 L507.40,513.93 L506.80,513.39 L506.20,513.43 L505.60,514.19 L505.00,514.84 L504.40,514.81 L503.80,513.17 L503.20,513.47 L502.60,514.81 L502.00,514.66 L501.40,514.03 L500.80,513.49 L500.20,513.91 L499.60,514.59 L499.00,513.32 L498.40,514.40 L497.80,514.01 L497.20,513.50 L496.60,515.00 L496.00,513.94 L495.40,514.93 L494.80,514.61 L494.20,514.42 L493.60,514.80 L493.00,515.59 L492.40,515.26 L491.80,515.34 L491.20,514.09 L490.60,514.88 L490.00,513.84 L489.40,513.78 L488.80,514.20 L488.20,514.21 L487.60,514.21 L487.00,515.13 L486.40,513.95 L485.80,514.56 L485.20,514.05 L484.60,514.57 L484.00,515.20 L483.40,514.33 L482.80,514.87 L482.20,515.66 L481.60,514.31 L481.00,515.27 L480.40,515.90 L479.80,514.68 L479.20,514.85 L478.60,514.92 L478.00,514.99 L477.40,515.06 L476.80,516.48 L476.20,515.33 L475.60,515.64 L475.00,514.78 L474.40,514.62 L473.80,515.46 L473.20,515.13 L472.60,515.37 L472.00,514.37 L471.40,515.41 L470.80,515.13 L470.20,514.55 L469.60,514.78 L469.00,515.69 L468.40,514.82 L467.80,515.18 L467.20,514.85 L466.60,514.51 L466.00,514.73 L465.40,515.50 L464.80,516.67 L464.20,515.65 L463.60,515.65 L463.00,515.96 L462.40,515.39 L461.80,515.40 L461.20,515.83 L460.60,515.82 L460.00,517.49 L459.40,516.72 L458.80,516.09 L458.20,516.10 L457.60,516.76 L457.00,517.15 L456.40,516.10 L455.80,516.77 L455.20,516.93 L454.60,516.32 L454.00,516.70 L453.40,515.97 L452.80,516.36 L452.20,516.83 L451.60,517.41 L451.00,515.88 L450.40,515.42 L449.80,516.43 L449.20,516.36 L448.60,517.15 L448.00,515.55 L447.40,516.87 L446.80,515.82 L446.20,516.29 L445.60,515.53 L445.00,515.64 L444.40,515.87 L443.80,516.07 L443.20,516.26 L442.60,517.27 L442.00,516.05 L441.40,517.60 L440.80,516.87 L440.20,516.04 L439.60,517.67 L439.00,516.92 L438.40,516.63 L437.80,516.98 L437.20,516.31 L436.60,516.53 L436.00,517.19 L435.40,515.46 L434.80,516.05 L434.20,516.25 L433.60,516.53 L433.00,517.24 L432.40,516.12 L431.80,516.83 L431.20,516.81 L430.60,516.22 L430.00,517.24 L429.40,516.30 L428.80,517.65 L428.20,517.84 L427.60,518.43 L427.00,517.37 L426.40,516.67 L425.80,516.98 L425.20,519.65 L424.60,518.91 L424.00,518.07 L423.40,517.55 L422.80,517.25 L422.20,517.64 L421.60,516.97 L421.00,517.25 L420.40,518.39 L419.80,517.36 L419.20,517.93 L418.60,518.03 L418.00,518.92 L417.40,518.60 L416.80,518.84 L416.20,517.90 L415.60,519.02 L415.00,519.44 L414.40,518.42 L413.80,518.43 L413.20,519.56 L412.60,519.74 L412.00,518.86 L411.40,519.67 L410.80,519.05 L410.20,520.45 L409.60,520.06 L409.00,519.67 L408.40,520.68 L407.80,519.82 L407.20,520.86 L406.60,520.90 L406.00,520.23 L405.40,519.20 L404.80,520.13 L404.20,519.89 L403.60,520.15 L403.00,519.88 L402.40,520.22 L401.80,520.90 L401.20,520.18 L400.60,521.94 L400.00,520.44 L399.40,521.26 L398.80,521.09 L398.20,521.20 L397.60,522.15 L397.00,522.16 L396.40,521.90 L395.80,522.67 L395.20,521.43 L394.60,521.36 L394.00,521.50 L393.40,522.19 L392.80,523.21 L392.20,521.74 L391.60,523.60 L391.00,522.03 L390.40,522.48 L389.80,523.03 L389.20,522.91 L388.60,523.03 L388.00,523.41 L387.40,522.83 L386.80,522.57 L386.20,523.57 L385.60,524.26 L385.00,524.60 L384.40,524.30 L383.80,525.56 L383.20,523.78 L382.60,526.01 L382.00,524.21 L381.40,524.37 L380.80,526.08 L380.20,524.78 L379.60,524.79 L379.00,525.57 L378.40,525.29 L377.80,527.38 L377.20,527.02 L376.60,525.46 L376.00,526.83 L375.40,526.47 L374.80,526.30 L374.20,526.85 L373.60,525.70 L373.00,526.58 L372.40,526.89 L371.80,527.29 L371.20,528.38 L370.60,527.92 L370.00,529.08 L369.40,527.89 L368.80,527.90 L368.20,527.37 L367.60,526.88 L367.00,528.34 L366.40,528.54 L365.80,529.06 L365.20,528.45 L364.60,528.20 L364.00,528.89 L363.40,527.36 L362.80,528.46 L362.20,528.72 L361.60,528.75 L361.00,529.17 L360.40,529.24 L359.80,528.47 L359.20,529.28 L358.60,528.40 L358.00,530.44 L357.40,529.03 L356.80,530.59 L356.20,529.52 L355.60,530.55 L355.00,529.98 L354.40,529.54 L353.80,530.71 L353.20,530.54 L352.60,530.94 L352.00,530.95 L351.40,531.67 L350.80,531.41 L350.20,530.79 L349.60,530.67 L349.00,531.79 L348.40,533.45 L347.80,531.89 L347.20,532.98 L346.60,531.77 L346.00,532.13 L345.40,532.22 L344.80,533.79 L344.20,533.95 L343.60,533.26 L343.00,533.66 L342.40,534.05 L341.80,533.91 L341.20,534.70 L340.60,533.92 L340.00,534.13 L339.40,534.20 L338.80,533.74 L338.20,534.33 L337.60,534.29 L337.00,536.45 L336.40,534.72 L335.80,534.94 L335.20,536.17 L334.60,535.06 L334.00,535.61 L333.40,536.07 L332.80,534.98 L332.20,535.80 L331.60,536.66 L331.00,535.97 L330.40,536.03 L329.80,536.75 L329.20,538.06 L328.60,536.08 L328.00,537.04 L327.40,536.93 L326.80,536.35 L326.20,536.52 L325.60,536.45 L325.00,538.23 L324.40,537.79 L323.80,539.35 L323.20,537.94 L322.60,539.49 L322.00,538.23 L321.40,538.62 L320.80,540.16 L320.20,539.55 L319.60,538.46 L319.00,539.52 L318.40,539.50 L317.80,538.98 L317.20,539.69 L316.60,540.53 L316.00,539.67 L315.40,539.40 L314.80,539.40 L314.20,540.13 L313.60,539.92 L313.00,540.21 L312.40,540.04 L311.80,540.84 L311.20,540.42 L310.60,541.86 L310.00,540.67 L309.40,540.94 L308.80,540.68 L308.20,540.93 L307.60,541.83 L307.00,540.97 L306.40,541.14 L305.80,541.91 L305.20,542.66 L304.60,541.35 L304.00,541.15 L303.40,542.04 L302.80,541.89 L302.20,542.59 L301.60,542.74 L301.00,542.47 L300.40,542.00 L299.80,542.73 L299.20,544.08 L298.60,542.25 L298.00,543.09 L297.40,542.31 L296.80,542.13 L296.20,541.96 L295.60,541.87 L295.00,542.77 L294.40,543.46 L293.80,541.94 L293.20,542.92 L292.60,543.33 L292.00,542.64 L291.40,543.35 L290.80,543.94 L290.20,545.79 L289.60,543.41 L289.00,544.35 L288.40,544.52 L287.80,544.54 L287.20,543.91 L286.60,542.90 L286.00,543.27 L285.40,544.82 L284.80,542.62 L284.20,543.93 L283.60,543.42 L283.00,542.58 L282.40,543.22 L281.80,543.18 L281.20,543.33 L280.60,545.18 L280.00,542.57 L279.40,542.66 L278.80,542.51 L278.20,543.51 L277.60,542.57 L277.00,543.43 L276.40,542.88 L275.80,544.40 L275.20,542.85 L274.60,544.13 L274.00,542.87 L273.40,544.05 L272.80,543.31 L272.20,544.58 L271.60,542.95 L271.00,543.51 L270.40,543.42 L269.80,543.33 L269.20,543.90 L268.60,542.83 L268.00,542.29 L267.40,543.66 L266.80,545.12 L266.20,543.03 L265.60,542.77 L265.00,542.44 L264.40,542.69 L263.80,543.57 L263.20,543.95 L262.60,543.15 L262.00,543.68 L261.40,543.64 L260.80,542.28 L260.20,542.06 L259.60,541.93 L259.00,542.24 L258.40,542.66 L257.80,542.10 L257.20,543.06 L256.60,542.27 L256.00,542.95 L255.40,542.26 L254.80,542.55 L254.20,543.09 L253.60,541.78 L253.00,542.07 L252.40,542.41 L251.80,541.91 L251.20,544.06 L250.60,542.54 L250.00,543.01 L249.40,541.51 L248.80,541.94 L248.20,541.36 L247.60,542.30 L247.00,541.53 L246.40,541.37 L245.80,541.14 L245.20,541.34 L244.60,540.96 L244.00,540.53 L243.40,540.60 L242.80,541.24 L242.20,541.72 L241.60,540.10 L241.00,540.41 L240.40,539.83 L239.80,541.33 L239.20,540.63 L238.60,540.44 L238.00,540.94 L237.40,540.05 L236.80,539.47 L236.20,539.80 L235.60,538.87 L235.00,539.26 L234.40,538.23 L233.80,538.41 L233.20,537.16 L232.60,537.49 L232.00,539.43 L231.40,536.95 L230.80,537.80 L230.20,538.21 L229.60,536.23 L229.00,536.86 L228.40,536.62 L227.80,536.80 L227.20,536.73 L226.60,536.16 L226.00,536.55 L225.40,536.30 L224.80,535.72 L224.20,535.17 L223.60,534.41 L223.00,535.80 L222.40,533.81 L221.80,534.88 L221.20,533.46 L220.60,533.81 L220.00,532.12 L219.40,531.80 L218.80,534.57 L218.20,531.45 L217.60,532.33 L217.00,529.79 L216.40,531.31 L215.80,529.15 L215.20,529.01 L214.60,528.34 L214.00,527.26 L213.40,526.96 L212.80,526.35 L212.20,525.38 L211.60,525.18 L211.00,524.25 L210.40,522.43 L209.80,521.50 L209.20,520.42 L208.60,519.16 L208.00,518.23 L207.40,516.99 L206.80,515.62 L206.20,513.71 L205.60,512.25 L205.00,510.82 Z" fill="#826e91" stroke="#826e91" stroke-width="0.3"/>
<line x1="246.6" y1="509" x2="246.6" y2="563" stroke="#0a6b0a" stroke-width="1.8"/>
<path d="M246.6,572.6 L242.6,560.8 L246.6,563.5 L250.6,560.8 Z" fill="#0a6b0a"/>
<line x1="106.00" y1="221.20" x2="111.50" y2="221.20" stroke="#000" stroke-width="1.71" />
<line x1="527.00" y1="221.20" x2="521.50" y2="221.20" stroke="#000" stroke-width="1.71" />
<line x1="106.00" y1="197.20" x2="109.00" y2="197.20" stroke="#000" stroke-width="1.71" />
<line x1="527.00" y1="197.20" x2="524.00" y2="197.20" stroke="#000" stroke-width="1.71" />
<line x1="106.00" y1="173.20" x2="109.00" y2="173.20" stroke="#000" stroke-width="1.71" />
<line x1="527.00" y1="173.20" x2="524.00" y2="173.20" stroke="#000" stroke-width="1.71" />
<line x1="106.00" y1="149.20" x2="111.50" y2="149.20" stroke="#000" stroke-width="1.71" />
<line x1="527.00" y1="149.20" x2="521.50" y2="149.20" stroke="#000" stroke-width="1.71" />
<line x1="106.00" y1="125.20" x2="109.00" y2="125.20" stroke="#000" stroke-width="1.71" />
<line x1="527.00" y1="125.20" x2="524.00" y2="125.20" stroke="#000" stroke-width="1.71" />
<line x1="106.00" y1="101.20" x2="109.00" y2="101.20" stroke="#000" stroke-width="1.71" />
<line x1="527.00" y1="101.20" x2="524.00" y2="101.20" stroke="#000" stroke-width="1.71" />
<line x1="106.00" y1="77.20" x2="111.50" y2="77.20" stroke="#000" stroke-width="1.71" />
<line x1="527.00" y1="77.20" x2="521.50" y2="77.20" stroke="#000" stroke-width="1.71" />
<line x1="106.00" y1="550.14" x2="109.00" y2="550.14" stroke="#000" stroke-width="1.71" />
<line x1="527.00" y1="550.14" x2="524.00" y2="550.14" stroke="#000" stroke-width="1.71" />
<line x1="106.00" y1="527.37" x2="109.00" y2="527.37" stroke="#000" stroke-width="1.71" />
<line x1="527.00" y1="527.37" x2="524.00" y2="527.37" stroke="#000" stroke-width="1.71" />
<line x1="106.00" y1="504.60" x2="111.50" y2="504.60" stroke="#000" stroke-width="1.71" />
<line x1="527.00" y1="504.60" x2="521.50" y2="504.60" stroke="#000" stroke-width="1.71" />
<line x1="106.00" y1="481.83" x2="109.00" y2="481.83" stroke="#000" stroke-width="1.71" />
<line x1="527.00" y1="481.83" x2="524.00" y2="481.83" stroke="#000" stroke-width="1.71" />
<line x1="106.00" y1="459.06" x2="109.00" y2="459.06" stroke="#000" stroke-width="1.71" />
<line x1="527.00" y1="459.06" x2="524.00" y2="459.06" stroke="#000" stroke-width="1.71" />
<line x1="106.00" y1="436.29" x2="109.00" y2="436.29" stroke="#000" stroke-width="1.71" />
<line x1="527.00" y1="436.29" x2="524.00" y2="436.29" stroke="#000" stroke-width="1.71" />
<line x1="106.00" y1="413.52" x2="109.00" y2="413.52" stroke="#000" stroke-width="1.71" />
<line x1="527.00" y1="413.52" x2="524.00" y2="413.52" stroke="#000" stroke-width="1.71" />
<line x1="106.00" y1="390.75" x2="111.50" y2="390.75" stroke="#000" stroke-width="1.71" />
<line x1="527.00" y1="390.75" x2="521.50" y2="390.75" stroke="#000" stroke-width="1.71" />
<line x1="106.00" y1="367.98" x2="109.00" y2="367.98" stroke="#000" stroke-width="1.71" />
<line x1="527.00" y1="367.98" x2="524.00" y2="367.98" stroke="#000" stroke-width="1.71" />
<line x1="106.00" y1="345.21" x2="109.00" y2="345.21" stroke="#000" stroke-width="1.71" />
<line x1="527.00" y1="345.21" x2="524.00" y2="345.21" stroke="#000" stroke-width="1.71" />
<line x1="106.00" y1="322.44" x2="109.00" y2="322.44" stroke="#000" stroke-width="1.71" />
<line x1="527.00" y1="322.44" x2="524.00" y2="322.44" stroke="#000" stroke-width="1.71" />
<line x1="106.00" y1="299.67" x2="109.00" y2="299.67" stroke="#000" stroke-width="1.71" />
<line x1="527.00" y1="299.67" x2="524.00" y2="299.67" stroke="#000" stroke-width="1.71" />
<line x1="106.00" y1="276.90" x2="111.50" y2="276.90" stroke="#000" stroke-width="1.71" />
<line x1="527.00" y1="276.90" x2="521.50" y2="276.90" stroke="#000" stroke-width="1.71" />
<line x1="106.00" y1="254.13" x2="109.00" y2="254.13" stroke="#000" stroke-width="1.71" />
<line x1="527.00" y1="254.13" x2="524.00" y2="254.13" stroke="#000" stroke-width="1.71" />
<line x1="176.30" y1="65.00" x2="176.30" y2="70.50" stroke="#000" stroke-width="1.71" />
<line x1="176.30" y1="233.50" x2="176.30" y2="228.00" stroke="#000" stroke-width="1.71" />
<line x1="264.05" y1="65.00" x2="264.05" y2="70.50" stroke="#000" stroke-width="1.71" />
<line x1="264.05" y1="233.50" x2="264.05" y2="228.00" stroke="#000" stroke-width="1.71" />
<line x1="351.80" y1="65.00" x2="351.80" y2="70.50" stroke="#000" stroke-width="1.71" />
<line x1="351.80" y1="233.50" x2="351.80" y2="228.00" stroke="#000" stroke-width="1.71" />
<line x1="439.55" y1="65.00" x2="439.55" y2="70.50" stroke="#000" stroke-width="1.71" />
<line x1="439.55" y1="233.50" x2="439.55" y2="228.00" stroke="#000" stroke-width="1.71" />
<line x1="176.30" y1="233.50" x2="176.30" y2="239.00" stroke="#000" stroke-width="1.71" />
<line x1="176.30" y1="570.50" x2="176.30" y2="565.00" stroke="#000" stroke-width="1.71" />
<line x1="264.05" y1="233.50" x2="264.05" y2="236.00" stroke="#000" stroke-width="1.71" />
<line x1="264.05" y1="570.50" x2="264.05" y2="568.00" stroke="#000" stroke-width="1.71" />
<line x1="351.80" y1="233.50" x2="351.80" y2="239.00" stroke="#000" stroke-width="1.71" />
<line x1="351.80" y1="570.50" x2="351.80" y2="565.00" stroke="#000" stroke-width="1.71" />
<line x1="439.55" y1="233.50" x2="439.55" y2="236.00" stroke="#000" stroke-width="1.71" />
<line x1="439.55" y1="570.50" x2="439.55" y2="568.00" stroke="#000" stroke-width="1.71" />
<rect x="106.0" y="65.0" width="421.0" height="505.5" fill="none" stroke="#000" stroke-width="1.8"/>
<line x1="106.00" y1="233.50" x2="527.00" y2="233.50" stroke="#000" stroke-width="1.71" />
<path d="M724.70,295.68 L778.58,433.88 L832.45,418.99 L886.33,349.09 L940.20,146.48" fill="none" stroke="#9000d0" stroke-width="2.2" stroke-dasharray="7.5 4.5"/>
<rect x="719.20" y="290.18" width="11" height="11" fill="#9000d0"/>
<rect x="773.08" y="428.38" width="11" height="11" fill="#9000d0"/>
<rect x="826.95" y="413.49" width="11" height="11" fill="#9000d0"/>
<rect x="880.83" y="343.59" width="11" height="11" fill="#9000d0"/>
<rect x="934.70" y="140.98" width="11" height="11" fill="#9000d0"/>
<line x1="671.00" y1="536.02" x2="674.00" y2="536.02" stroke="#000" stroke-width="1.6" />
<line x1="994.00" y1="536.02" x2="991.00" y2="536.02" stroke="#000" stroke-width="1.6" />
<line x1="671.00" y1="502.64" x2="674.00" y2="502.64" stroke="#000" stroke-width="1.6" />
<line x1="994.00" y1="502.64" x2="991.00" y2="502.64" stroke="#000" stroke-width="1.6" />
<line x1="671.00" y1="469.26" x2="674.00" y2="469.26" stroke="#000" stroke-width="1.6" />
<line x1="994.00" y1="469.26" x2="991.00" y2="469.26" stroke="#000" stroke-width="1.6" />
<line x1="671.00" y1="435.88" x2="674.00" y2="435.88" stroke="#000" stroke-width="1.6" />
<line x1="994.00" y1="435.88" x2="991.00" y2="435.88" stroke="#000" stroke-width="1.6" />
<line x1="671.00" y1="402.50" x2="676.50" y2="402.50" stroke="#000" stroke-width="1.6" />
<line x1="994.00" y1="402.50" x2="988.50" y2="402.50" stroke="#000" stroke-width="1.6" />
<line x1="671.00" y1="369.12" x2="674.00" y2="369.12" stroke="#000" stroke-width="1.6" />
<line x1="994.00" y1="369.12" x2="991.00" y2="369.12" stroke="#000" stroke-width="1.6" />
<line x1="671.00" y1="335.74" x2="674.00" y2="335.74" stroke="#000" stroke-width="1.6" />
<line x1="994.00" y1="335.74" x2="991.00" y2="335.74" stroke="#000" stroke-width="1.6" />
<line x1="671.00" y1="302.36" x2="674.00" y2="302.36" stroke="#000" stroke-width="1.6" />
<line x1="994.00" y1="302.36" x2="991.00" y2="302.36" stroke="#000" stroke-width="1.6" />
<line x1="671.00" y1="268.98" x2="674.00" y2="268.98" stroke="#000" stroke-width="1.6" />
<line x1="994.00" y1="268.98" x2="991.00" y2="268.98" stroke="#000" stroke-width="1.6" />
<line x1="671.00" y1="235.60" x2="676.50" y2="235.60" stroke="#000" stroke-width="1.6" />
<line x1="994.00" y1="235.60" x2="988.50" y2="235.60" stroke="#000" stroke-width="1.6" />
<line x1="671.00" y1="202.22" x2="674.00" y2="202.22" stroke="#000" stroke-width="1.6" />
<line x1="994.00" y1="202.22" x2="991.00" y2="202.22" stroke="#000" stroke-width="1.6" />
<line x1="671.00" y1="168.84" x2="674.00" y2="168.84" stroke="#000" stroke-width="1.6" />
<line x1="994.00" y1="168.84" x2="991.00" y2="168.84" stroke="#000" stroke-width="1.6" />
<line x1="671.00" y1="135.46" x2="674.00" y2="135.46" stroke="#000" stroke-width="1.6" />
<line x1="994.00" y1="135.46" x2="991.00" y2="135.46" stroke="#000" stroke-width="1.6" />
<line x1="671.00" y1="102.08" x2="674.00" y2="102.08" stroke="#000" stroke-width="1.6" />
<line x1="994.00" y1="102.08" x2="991.00" y2="102.08" stroke="#000" stroke-width="1.6" />
<line x1="724.70" y1="570.00" x2="724.70" y2="564.50" stroke="#000" stroke-width="1.6" />
<line x1="724.70" y1="68.70" x2="724.70" y2="74.20" stroke="#000" stroke-width="1.6" />
<line x1="778.58" y1="570.00" x2="778.58" y2="567.50" stroke="#000" stroke-width="1.6" />
<line x1="778.58" y1="68.70" x2="778.58" y2="71.20" stroke="#000" stroke-width="1.6" />
<line x1="832.45" y1="570.00" x2="832.45" y2="564.50" stroke="#000" stroke-width="1.6" />
<line x1="832.45" y1="68.70" x2="832.45" y2="74.20" stroke="#000" stroke-width="1.6" />
<line x1="886.33" y1="570.00" x2="886.33" y2="567.50" stroke="#000" stroke-width="1.6" />
<line x1="886.33" y1="68.70" x2="886.33" y2="71.20" stroke="#000" stroke-width="1.6" />
<line x1="940.20" y1="570.00" x2="940.20" y2="564.50" stroke="#000" stroke-width="1.6" />
<line x1="940.20" y1="68.70" x2="940.20" y2="74.20" stroke="#000" stroke-width="1.6" />
<rect x="671.0" y="68.7" width="323.0" height="501.3" fill="none" stroke="#000" stroke-width="1.6"/>
<text x="-1.00" y="30.60" font-family='"Liberation Sans", sans-serif' font-size="41" font-weight="bold" fill="#000">a</text>
<text x="0" y="0" transform="translate(556.6,30.6) scale(1.1,1)" font-family='"Liberation Sans", sans-serif' font-size="41" font-weight="bold">b</text>
<text x="234.82" y="40.60" font-family='"Liberation Sans", sans-serif' font-size="30.0" font-style="italic" fill="#000">U</text>
<text x="254.26" y="49.00" font-family='"Liberation Sans", sans-serif' font-size="21.0"  fill="#000">inv</text>
<text x="289.50" y="40.60" font-family='"Liberation Sans", sans-serif' font-size="30.0"  fill="#000">=</text>
<text x="313.48" y="40.60" font-family='"Liberation Sans", sans-serif' font-size="30.0"  fill="#000">−2.5</text>
<text x="379.95" y="40.60" font-family='"Liberation Sans", sans-serif' font-size="30.0"  fill="#000">V</text>
<text x="74.93" y="86.60" font-family='"Liberation Sans", sans-serif' font-size="30.0"  fill="#000">3</text>
<text x="74.79" y="158.60" font-family='"Liberation Sans", sans-serif' font-size="30.0"  fill="#000">0</text>
<text x="57.41" y="230.60" font-family='"Liberation Sans", sans-serif' font-size="30.0"  fill="#000">−3</text>
<text x="41.32" y="286.20" font-family='"Liberation Sans", sans-serif' font-size="30.0"  fill="#000">100</text>
<text x="58.00" y="400.05" font-family='"Liberation Sans", sans-serif' font-size="30.0"  fill="#000">50</text>
<text x="74.69" y="513.90" font-family='"Liberation Sans", sans-serif' font-size="30.0"  fill="#000">0</text>
<text x="167.76" y="607.80" font-family='"Liberation Sans", sans-serif' font-size="30.0"  fill="#000">0</text>
<text x="342.85" y="607.80" font-family='"Liberation Sans", sans-serif' font-size="30.0"  fill="#000">1</text>
<text x="518.76" y="607.80" font-family='"Liberation Sans", sans-serif' font-size="30.0"  fill="#000">2</text>
<text x="240.71" y="652.9" font-family='"Liberation Sans", sans-serif' font-size="30.1">Time, <tspan font-style="italic">t</tspan> (ns)</text>
<text transform="translate(24,238.97) rotate(-90)" font-family='"Liberation Sans", sans-serif' font-size="30.0">Voltage, <tspan font-style="italic">U</tspan>(V)</text>
<text transform="translate(24,491.34) rotate(-90)" font-family='"Liberation Sans", sans-serif' font-size="29.2">Charge, <tspan font-style="italic">Q</tspan> (<tspan font-style="italic">e</tspan>)</text>
<text transform="translate(142.00,198.83) rotate(-90)" font-family='"Liberation Sans", sans-serif' font-size="30.0" font-style="italic" fill="#000">U</text>
<text transform="translate(149.90,177.99) rotate(-90)" font-family='"Liberation Sans", sans-serif' font-size="21.0"  fill="#000">inv</text>
<text x="389.22" y="275.30" font-family='"Liberation Sans", sans-serif' font-size="25"  fill="#000">Step</text>
<text x="295.18" y="302.80" font-family='"Liberation Sans", sans-serif' font-size="25" font-style="italic" fill="#000">k</text>
<text x="304.82" y="310.30" font-family='"Liberation Sans", sans-serif' font-size="18"  fill="#000">inv</text>
<text x="334.78" y="302.80" font-family='"Liberation Sans", sans-serif' font-size="25"  fill="#000">= 10 V/ns</text>
<text x="370.23" y="329.20" font-family='"Liberation Sans", sans-serif' font-size="25"  fill="#000">5 V/ns</text>
<text x="349.38" y="356.40" font-family='"Liberation Sans", sans-serif' font-size="25"  fill="#000">2.5 V/ns</text>
<line x1="455.60" y1="266.40" x2="494.10" y2="266.40" stroke="#c02830" stroke-width="2.2" />
<line x1="455.60" y1="294.00" x2="494.10" y2="294.00" stroke="#c27650" stroke-width="2.0" />
<line x1="455.60" y1="321.50" x2="494.10" y2="321.50" stroke="#005e00" stroke-width="3.0" />
<line x1="455.60" y1="349.00" x2="494.10" y2="349.00" stroke="#7a6886" stroke-width="2.0" />
<g transform="translate(230,591.6)" stroke="#0a6b0a"><path d="M0.3,-10.2 C1.3,-12.6 3.1,-13.6 5.6,-13.7 L12.3,-13.8" fill="none" stroke-width="2.0" stroke-linecap="round"/><path d="M6.9,-13.2 C5.8,-9.6 4.6,-6.1 4.8,-2.9 C5.0,-0.2 7.6,0.1 9.8,-3.3" fill="none" stroke-width="1.9" stroke-linecap="round"/></g>
<text x="243.76" y="600.00" font-family='"Liberation Sans", sans-serif' font-size="20"  fill="#0a6b0a">dis</text>
<text x="615.36" y="78.40" font-family='"Liberation Sans", sans-serif' font-size="30.0"  fill="#000">1.5</text>
<text x="640.58" y="245.30" font-family='"Liberation Sans", sans-serif' font-size="30.0"  fill="#000">1</text>
<text x="615.36" y="412.20" font-family='"Liberation Sans", sans-serif' font-size="30.0"  fill="#000">0.5</text>
<text x="640.29" y="579.10" font-family='"Liberation Sans", sans-serif' font-size="30.0"  fill="#000">0</text>
<text x="707.12" y="607.80" font-family='"Liberation Sans", sans-serif' font-size="30.0"  fill="#000">−3</text>
<text x="814.96" y="607.80" font-family='"Liberation Sans", sans-serif' font-size="30.0"  fill="#000">−2</text>
<text x="922.69" y="607.80" font-family='"Liberation Sans", sans-serif' font-size="30.0"  fill="#000">−1</text>
<text x="666.09" y="653.10" font-family='"Liberation Sans", sans-serif' font-size="29.4"  fill="#000">Inversion voltage,</text>
<text x="904.37" y="653.10" font-family='"Liberation Sans", sans-serif' font-size="30.0" font-style="italic" fill="#000">U</text>
<text x="923.91" y="660.40" font-family='"Liberation Sans", sans-serif' font-size="21.0"  fill="#000">inv</text>
<text x="959.64" y="653.10" font-family='"Liberation Sans", sans-serif' font-size="30.0"  fill="#000">(V)</text>
<text transform="translate(586.50,537.99) rotate(-90)" font-family='"Liberation Sans", sans-serif' font-size="29.15"  fill="#000">Minimimal discharge time,</text>
<g transform="translate(586.5,191) rotate(-90)" stroke="#000"><path d="M0.3,-10.2 C1.3,-12.6 3.1,-13.6 5.6,-13.7 L12.3,-13.8" fill="none" stroke-width="2.0" stroke-linecap="round"/><path d="M6.9,-13.2 C5.8,-9.6 4.6,-6.1 4.8,-2.9 C5.0,-0.2 7.6,0.1 9.8,-3.3" fill="none" stroke-width="1.9" stroke-linecap="round"/></g>
<text transform="translate(594.90,178.58) rotate(-90)" font-family='"Liberation Sans", sans-serif' font-size="21.0"  fill="#000">dis</text>
<text transform="translate(586.50,152.80) rotate(-90)" font-family='"Liberation Sans", sans-serif' font-size="30.0"  fill="#000">(ns)</text></svg>
</body></html>
